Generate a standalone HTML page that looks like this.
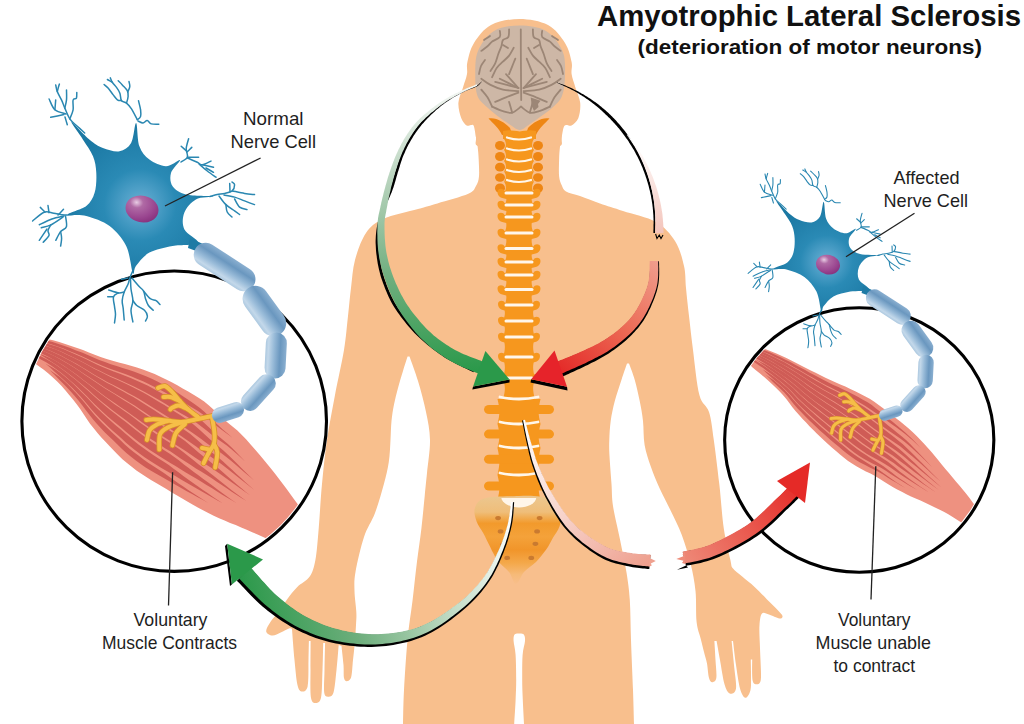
<!DOCTYPE html>
<html><head><meta charset="utf-8"><style>html,body{margin:0;padding:0;background:#fff;}svg{display:block;}</style></head>
<body><svg width="1024" height="724" viewBox="0 0 1024 724">
<defs><linearGradient id="vg" x1="0" x2="1" y1="0" y2="0"><stop offset="0" stop-color="#F08A16"/><stop offset="0.5" stop-color="#F79A24"/><stop offset="1" stop-color="#F08A16"/></linearGradient>
<linearGradient id="sg" gradientUnits="userSpaceOnUse" x1="0" x2="0" y1="497" y2="585"><stop offset="0" stop-color="#ECC68E"/><stop offset="0.17" stop-color="#EFBE7A"/><stop offset="0.3" stop-color="#F29A2C"/><stop offset="0.45" stop-color="#F4A23A"/><stop offset="0.6" stop-color="#F1952A"/><stop offset="0.75" stop-color="#F4A84A"/><stop offset="0.88" stop-color="#F6BA78"/><stop offset="1" stop-color="#F8BF8D"/></linearGradient>
<linearGradient id="gU" gradientUnits="userSpaceOnUse" x1="450" y1="90" x2="470" y2="370"><stop offset="0" stop-color="#F2F6F2"/><stop offset="0.3" stop-color="#B9D4BE"/><stop offset="0.65" stop-color="#6FAE7E"/><stop offset="1" stop-color="#2C994B"/></linearGradient>
<linearGradient id="rU" gradientUnits="userSpaceOnUse" x1="640" y1="140" x2="660" y2="240"><stop offset="0" stop-color="#FFFFFF"/><stop offset="1" stop-color="#F2C0B6"/></linearGradient>
<linearGradient id="rL" gradientUnits="userSpaceOnUse" x1="660" y1="258" x2="560" y2="372"><stop offset="0" stop-color="#F0A090"/><stop offset="0.5" stop-color="#EC6A55"/><stop offset="1" stop-color="#E42A28"/></linearGradient>
<linearGradient id="gL" gradientUnits="userSpaceOnUse" x1="512" y1="505" x2="240" y2="575"><stop offset="0" stop-color="#FFFFFF"/><stop offset="0.3" stop-color="#C2DCC6"/><stop offset="0.65" stop-color="#6DAE7C"/><stop offset="1" stop-color="#2C994B"/></linearGradient>
<linearGradient id="pL" gradientUnits="userSpaceOnUse" x1="524" y1="422" x2="652" y2="561"><stop offset="0" stop-color="#FFFFFF"/><stop offset="0.5" stop-color="#F7D3CB"/><stop offset="1" stop-color="#EE9F8E"/></linearGradient>
<linearGradient id="rR" gradientUnits="userSpaceOnUse" x1="677" y1="559" x2="800" y2="480"><stop offset="0" stop-color="#EE8C7A"/><stop offset="1" stop-color="#E52A27"/></linearGradient>
<clipPath id="cL"><ellipse cx="174.2" cy="421.2" rx="149.8" ry="147.7"/></clipPath>
<clipPath id="cR"><ellipse cx="859.25" cy="440" rx="132.1" ry="129.8"/></clipPath>
<clipPath id="mL"><path d="M10.0 331.0 L16.2 332.3 L22.3 333.6 L28.5 334.9 L34.7 336.2 L40.8 337.5 L47.0 338.9 L53.1 340.3 L59.2 342.0 L65.2 343.9 L71.1 346.0 L77.1 348.1 L83.0 350.1 L88.9 352.4 L94.7 354.8 L100.6 357.0 L106.6 359.0 L112.6 360.8 L118.7 362.6 L124.8 364.1 L130.9 365.8 L136.9 367.6 L142.9 369.6 L148.8 371.7 L154.7 374.1 L160.4 376.7 L166.1 379.4 L171.7 382.2 L177.3 385.2 L182.7 388.4 L188.2 391.5 L193.6 394.7 L198.9 398.1 L204.2 401.6 L209.0 405.6 L213.7 409.8 L218.3 414.1 L222.9 418.4 L227.6 422.6 L232.5 426.6 L237.4 430.6 L241.9 434.9 L246.3 439.5 L250.4 444.2 L254.6 449.0 L258.7 453.8 L262.7 458.6 L266.8 463.4 L270.7 468.3 L274.7 473.3 L278.5 478.2 L282.3 483.2 L286.1 488.3 L289.9 493.4 L293.5 498.5 L297.2 503.6 L300.9 508.7 L304.6 513.8 L308.3 518.9 L312.0 524.0 L290.0 550.0 L284.6 547.4 L279.3 544.7 L273.9 542.1 L268.5 539.5 L263.1 537.0 L257.6 534.5 L252.2 532.2 L246.7 529.8 L241.2 527.5 L235.7 525.1 L230.1 522.9 L224.6 520.6 L219.1 518.3 L213.7 515.7 L208.3 513.1 L203.0 510.3 L197.8 507.5 L192.5 504.6 L187.3 501.6 L182.2 498.6 L177.1 495.5 L171.9 492.4 L166.8 489.3 L161.7 486.3 L156.6 483.2 L151.4 480.2 L146.3 477.1 L141.3 473.8 L136.4 470.4 L131.7 466.8 L127.0 463.1 L122.4 459.2 L118.1 455.0 L114.0 450.7 L109.9 446.4 L105.7 442.1 L101.6 437.7 L97.7 433.3 L93.9 428.6 L90.2 423.9 L86.8 419.0 L83.5 414.0 L80.2 409.0 L76.7 404.2 L73.0 399.5 L69.2 394.9 L65.3 390.3 L61.4 385.8 L57.2 381.5 L52.9 377.4 L48.4 373.4 L43.8 369.7 L38.9 366.2 L34.1 362.7 L29.3 359.2 L24.4 355.6 L19.6 352.1 L14.8 348.5 L10.0 345.0Z"/></clipPath>
<clipPath id="mR"><path d="M735.0 340.0 L740.2 341.5 L745.5 343.0 L750.7 344.6 L755.9 346.1 L761.2 347.8 L766.3 349.5 L771.4 351.5 L776.4 353.6 L781.4 355.8 L786.4 358.1 L791.3 360.5 L796.2 363.0 L801.0 365.4 L805.9 367.9 L810.8 370.4 L815.6 372.8 L820.5 375.3 L825.4 377.7 L830.3 380.1 L835.3 382.3 L840.3 384.5 L845.3 386.6 L850.3 388.9 L855.2 391.2 L860.1 393.7 L864.9 396.2 L869.7 398.8 L874.3 401.8 L878.7 405.0 L883.1 408.2 L887.4 411.5 L891.7 414.9 L896.0 418.2 L900.3 421.6 L904.5 425.1 L908.7 428.6 L912.8 432.2 L916.7 436.0 L920.5 439.9 L924.3 443.9 L927.9 447.9 L931.5 452.0 L935.0 456.2 L938.5 460.4 L941.9 464.7 L945.4 468.9 L948.9 473.1 L952.4 477.3 L955.9 481.4 L959.4 485.6 L962.9 489.8 L966.4 494.0 L969.7 498.3 L972.9 502.8 L976.2 507.1 L979.6 511.4 L983.1 515.6 L986.5 519.8 L990.0 524.0 L975.0 530.0 L970.5 527.5 L966.0 525.0 L961.4 522.5 L957.0 519.8 L952.7 517.0 L948.3 514.3 L943.8 511.8 L939.2 509.4 L934.5 507.2 L929.9 504.9 L925.2 502.7 L920.5 500.6 L915.7 498.6 L911.0 496.5 L906.4 494.2 L901.8 491.8 L897.2 489.4 L892.7 486.9 L888.2 484.3 L883.8 481.6 L879.5 478.8 L875.1 476.1 L870.5 473.6 L865.9 471.4 L861.3 468.9 L856.8 466.4 L852.4 463.7 L848.1 460.9 L844.0 457.7 L840.0 454.5 L836.0 451.1 L832.1 447.7 L828.2 444.3 L824.4 440.8 L820.7 437.3 L817.0 433.7 L813.3 430.1 L809.7 426.4 L806.1 422.6 L802.6 418.9 L799.1 415.0 L795.7 411.2 L792.4 407.2 L789.3 403.0 L786.3 398.9 L782.9 394.9 L779.4 391.2 L775.6 387.6 L771.9 384.0 L768.1 380.6 L764.2 377.1 L760.3 373.8 L756.2 370.5 L752.3 367.2 L748.7 363.5 L745.2 359.7 L741.8 355.8 L738.4 351.9 L735.0 348.0Z"/></clipPath>
<radialGradient id="nb" gradientUnits="userSpaceOnUse" cx="140" cy="205" r="80"><stop offset="0" stop-color="#6AB0D2"/><stop offset="0.22" stop-color="#4C9EC6"/><stop offset="0.45" stop-color="#2A8AB5"/><stop offset="1" stop-color="#1B78A3"/></radialGradient>
<radialGradient id="nuc" cx="0.3" cy="0.3" r="0.8"><stop offset="0" stop-color="#E8CCE4"/><stop offset="0.25" stop-color="#B06AA5"/><stop offset="0.7" stop-color="#9A4690"/><stop offset="1" stop-color="#86307C"/></radialGradient>
<linearGradient id="my" x1="0" x2="0" y1="0" y2="1"><stop offset="0" stop-color="#8AAFD0"/><stop offset="0.3" stop-color="#6A97BF"/><stop offset="0.62" stop-color="#9ABCD9"/><stop offset="0.86" stop-color="#C3D8EA"/><stop offset="1" stop-color="#ADC9E0"/></linearGradient></defs>
<rect width="1024" height="724" fill="#fff"/>
<path d="M476.0 112.0 C476.0 116.3 475.7 131.8 476.0 137.6 C476.3 143.3 477.2 142.8 477.6 146.5 C478.1 150.2 478.5 154.7 478.7 159.7 C478.9 164.7 479.4 171.9 479.0 176.3 C478.6 180.7 477.8 183.1 476.0 186.0 C474.2 188.9 474.7 190.9 468.3 193.8 C461.9 196.7 445.8 200.9 437.4 203.4 C429.0 205.9 427.1 206.4 418.0 209.0 C408.9 211.6 391.7 215.0 383.0 219.0 C374.3 223.0 370.7 226.2 366.0 233.0 C361.3 239.8 357.5 250.8 355.0 260.0 C352.5 269.2 352.2 278.7 351.0 288.0 C349.8 297.3 349.2 305.7 348.0 316.0 C346.8 326.3 346.2 336.8 344.0 350.0 C341.8 363.2 337.8 380.0 335.0 395.0 C332.2 410.0 329.2 425.2 327.0 440.0 C324.8 454.8 323.4 469.3 322.0 484.0 C320.6 498.7 319.8 515.7 318.7 528.4 C317.6 541.1 316.9 552.0 315.4 560.0 C313.9 568.0 312.7 572.1 309.7 576.6 C306.7 581.1 301.1 583.2 297.3 587.0 C293.5 590.8 290.1 595.3 287.0 599.4 C283.9 603.5 281.4 608.0 278.6 611.8 C275.8 615.6 272.5 618.7 270.4 622.0 C268.3 625.3 265.9 629.2 266.2 631.5 C266.5 633.8 270.0 635.4 272.4 635.6 C274.8 635.8 277.9 633.7 280.7 632.5 C283.5 631.3 287.1 629.0 289.0 628.4 C290.9 627.8 291.5 628.9 292.0 629.0 L292.0 629.0 C292.4 634.2 293.6 650.8 294.5 660.0 C295.4 669.2 296.2 679.0 297.3 684.3 C298.4 689.5 299.7 691.1 301.4 691.5 C303.1 691.9 306.4 691.6 307.6 686.4 C308.8 681.1 308.3 667.6 308.5 660.0 C308.7 652.4 308.8 644.2 308.9 641.0 L310.6 641.0 C310.6 645.8 310.5 660.7 310.5 670.0 C310.5 679.3 310.1 691.2 310.8 696.7 C311.6 702.2 313.3 702.8 315.0 703.0 C316.7 703.2 319.8 703.3 321.0 697.8 C322.2 692.3 322.1 679.1 322.5 670.0 C322.9 660.9 323.1 647.5 323.2 643.0 L325.1 643.0 C325.0 647.5 324.6 661.7 324.5 670.0 C324.4 678.3 323.6 688.1 324.2 692.6 C324.8 697.1 326.8 696.7 328.4 696.7 C329.9 696.7 332.1 697.1 333.5 692.6 C334.9 688.1 335.6 677.9 336.5 670.0 C337.4 662.1 338.3 649.2 338.7 645.0 L341.5 646.0 C341.8 649.2 343.1 659.7 343.5 665.0 C343.9 670.3 343.4 675.3 344.0 678.0 C344.6 680.7 345.8 681.4 347.0 681.2 C348.2 681.0 350.2 680.5 351.2 677.0 C352.2 673.5 352.4 665.3 353.0 660.0 C353.6 654.7 354.1 650.8 354.6 645.0 C355.1 639.2 355.7 630.5 356.0 625.0 C356.3 619.5 356.6 617.5 356.3 611.8 C356.1 606.1 354.6 597.6 354.5 591.0 C354.4 584.4 353.9 581.0 355.5 572.0 C357.1 563.0 360.8 546.8 364.0 537.0 C367.2 527.2 371.7 521.8 375.0 513.0 C378.3 504.2 381.6 492.5 383.9 484.0 C386.2 475.5 387.7 469.3 388.8 462.0 C389.9 454.7 390.1 446.8 390.5 440.0 C390.9 433.2 390.9 426.9 391.5 421.0 C392.1 415.1 392.9 410.0 394.0 404.5 C395.1 399.0 396.5 393.6 398.0 388.0 C399.5 382.4 401.4 376.2 403.0 371.0 C404.6 365.8 406.8 359.0 407.6 356.6 L409.5 356.6 C410.9 360.7 415.2 371.8 418.0 381.0 C420.8 390.2 424.0 402.2 426.0 412.0 C428.0 421.8 429.8 429.8 430.0 440.0 C430.2 450.2 427.9 463.8 427.0 473.0 C426.1 482.2 425.7 485.8 424.8 495.0 C423.9 504.2 422.7 517.3 421.4 528.4 C420.1 539.5 418.5 549.6 417.0 561.5 C415.5 573.4 414.2 586.9 412.6 600.0 C411.0 613.1 408.9 625.0 407.5 640.0 C406.1 655.0 404.8 676.0 404.0 690.0 C403.2 704.0 403.2 718.3 403.0 724.0 L514.5 724.0 L514.2 724.0 C514.4 720.0 515.3 707.3 515.6 700.0 C515.9 692.7 516.2 687.5 516.2 680.0 C516.2 672.5 516.0 661.5 515.6 655.0 C515.2 648.5 513.8 644.4 513.6 641.0 C513.4 637.6 513.7 635.8 514.6 634.5 C515.5 633.2 517.5 633.4 519.0 633.4 C520.5 633.4 522.8 633.2 523.8 634.5 C524.8 635.8 525.2 637.6 525.0 641.0 C524.8 644.4 523.1 648.5 522.6 655.0 C522.1 661.5 522.2 672.5 522.2 680.0 C522.2 687.5 522.5 692.7 522.8 700.0 C523.1 707.3 523.8 720.0 524.0 724.0 L634.0 724.0 C633.8 718.3 633.5 704.0 633.0 690.0 C632.5 676.0 631.5 655.0 631.0 640.0 C630.5 625.0 630.5 611.2 629.8 600.0 C629.0 588.8 628.1 582.7 626.5 572.6 C624.9 562.5 622.2 550.5 620.0 539.4 C617.8 528.3 614.4 515.2 613.0 506.0 C611.6 496.8 612.1 492.3 611.5 484.0 C610.9 475.7 609.9 463.3 609.5 456.0 C609.1 448.7 609.1 445.8 609.3 440.0 C609.5 434.2 609.8 427.5 610.7 421.0 C611.6 414.5 613.0 407.9 614.8 401.0 C616.6 394.1 619.5 385.9 621.5 379.7 C623.5 373.4 626.1 366.2 627.0 363.5 L629.0 363.5 C630.0 366.2 632.9 373.4 634.7 379.7 C636.5 385.9 638.3 394.1 639.7 401.0 C641.1 407.9 642.2 413.7 643.0 421.0 C643.8 428.3 643.3 437.4 644.6 445.0 C645.9 452.6 648.3 459.2 650.8 466.5 C653.3 473.8 656.4 481.2 659.7 488.6 C663.0 496.0 667.0 503.0 670.7 510.7 C674.4 518.4 678.5 526.1 681.8 535.0 C685.1 543.9 688.3 554.5 690.6 563.8 C692.9 573.1 694.5 581.3 695.5 591.0 C696.5 600.7 695.7 614.0 696.6 622.0 C697.5 630.0 699.5 633.7 700.7 638.7 C701.9 643.7 703.0 647.9 704.0 652.0 C705.0 656.1 706.2 659.3 707.0 663.6 C707.8 667.9 708.1 674.9 709.0 678.0 C709.9 681.1 710.9 682.2 712.1 682.2 C713.3 682.2 715.7 681.7 716.3 678.0 C716.9 674.3 715.8 666.2 715.5 660.0 C715.2 653.8 714.6 644.2 714.4 641.0 L716.6 641.0 C717.2 644.2 718.7 652.8 720.0 660.0 C721.3 667.2 722.9 678.7 724.5 684.3 C726.1 689.9 727.8 692.9 729.7 693.6 C731.6 694.3 735.3 693.2 736.0 688.4 C736.7 683.6 734.7 672.9 734.0 665.0 C733.3 657.1 732.0 645.0 731.6 641.0 L733.0 641.0 C733.5 645.0 734.8 657.1 736.0 665.0 C737.2 672.9 738.5 682.9 740.0 688.4 C741.5 693.9 743.6 697.4 745.3 697.8 C747.0 698.1 749.4 694.3 750.4 690.5 C751.4 686.7 750.9 680.2 751.0 675.0 C751.1 669.8 750.8 662.0 750.8 659.4 L752.2 659.4 C752.2 662.8 751.8 675.9 752.5 680.0 C753.2 684.1 755.3 684.3 756.7 684.3 C758.1 684.3 760.2 684.0 760.8 680.0 C761.4 676.0 760.7 666.2 760.5 660.0 C760.3 653.8 760.0 648.7 759.8 642.9 C759.6 637.1 759.1 629.9 759.5 625.0 C759.9 620.1 760.4 615.2 762.0 613.5 C763.6 611.8 766.1 613.7 769.0 614.5 C771.9 615.3 777.1 618.2 779.4 618.5 C781.6 618.8 782.8 617.5 782.5 616.0 C782.2 614.5 780.0 612.5 777.4 609.7 C774.8 606.9 770.8 603.2 767.0 599.4 C763.2 595.6 758.7 590.8 754.6 587.0 C750.5 583.2 745.8 579.7 742.2 576.6 C738.6 573.5 734.8 571.1 732.8 568.3 C730.8 565.5 731.9 566.6 730.4 560.0 C728.9 553.4 725.6 541.1 723.8 528.4 C721.9 515.7 721.0 498.7 719.3 484.0 C717.6 469.3 715.5 452.0 713.8 440.0 C712.1 428.0 711.4 419.5 709.0 412.0 C706.6 404.5 702.1 405.3 699.4 395.0 C696.7 384.7 694.7 363.2 693.0 350.0 C691.3 336.8 690.2 326.3 689.0 316.0 C687.8 305.7 686.8 296.3 686.0 288.0 C685.2 279.7 685.8 273.8 684.0 266.0 C682.2 258.2 679.7 248.3 675.0 241.0 C670.3 233.7 664.7 227.0 656.0 222.0 C647.3 217.0 632.3 214.1 623.0 211.0 C613.7 207.9 607.2 206.0 600.0 203.5 C592.8 201.0 585.7 198.0 580.0 196.0 C574.3 194.0 569.1 193.3 566.0 191.5 C562.9 189.7 562.8 187.5 561.6 185.0 C560.5 182.5 559.5 180.5 559.1 176.3 C558.7 172.1 559.0 164.7 559.1 159.7 C559.2 154.7 559.6 150.2 560.0 146.5 C560.4 142.8 561.2 142.8 561.6 137.6 C562.0 132.3 562.4 118.8 562.5 115.0Z" fill="#F8BF8D"/>
<path d="M519.5 19.0 C529.0 19.0 540.4 21.0 548.0 25.0 C555.6 29.0 561.1 36.8 565.0 43.0 C568.9 49.2 570.5 56.8 571.6 62.0 C572.7 67.2 571.0 69.8 571.6 74.0 C572.2 78.2 574.0 82.6 575.4 87.4 C576.8 92.2 579.7 97.7 580.2 102.8 C580.7 107.9 579.8 114.5 578.3 118.3 C576.8 122.1 573.4 124.4 571.5 125.5 C569.6 126.6 568.3 124.8 567.0 125.0 C565.7 125.2 564.7 124.9 563.8 127.0 C562.9 129.1 562.2 134.4 561.6 137.6 C561.0 140.8 563.6 144.3 560.0 146.0 C556.4 147.7 550.2 147.7 540.0 148.0 C529.8 148.3 509.4 148.3 499.0 148.0 C488.6 147.7 481.4 147.7 477.6 146.0 C473.8 144.3 476.6 140.9 476.0 137.6 C475.4 134.3 474.6 128.1 473.8 126.0 C473.0 123.9 472.2 125.1 471.0 125.0 C469.8 124.9 468.2 126.6 466.6 125.5 C465.0 124.4 462.7 122.1 461.3 118.3 C459.9 114.5 458.1 107.9 458.4 102.8 C458.7 97.7 461.6 92.2 463.0 87.4 C464.4 82.6 466.3 78.2 467.0 74.0 C467.7 69.8 466.2 67.2 467.4 62.0 C468.6 56.8 470.1 49.2 474.0 43.0 C477.9 36.8 483.4 29.0 491.0 25.0 C498.6 21.0 510.0 19.0 519.5 19.0Z" fill="#F8BF8D"/>
<path d="M519.8 25.5 C528.5 25.5 538.9 26.8 546.0 31.0 C553.1 35.2 559.3 43.7 562.5 51.0 C565.7 58.3 565.1 67.5 565.0 75.0 C564.9 82.5 564.2 90.5 562.0 96.0 C559.8 101.5 555.7 104.5 552.0 108.0 C548.3 111.5 543.7 114.3 540.0 117.0 C536.3 119.7 533.4 121.8 530.0 124.0 C526.6 126.2 523.3 130.0 519.8 130.0 C516.3 130.0 512.5 126.2 509.0 124.0 C505.5 121.8 502.5 119.7 499.0 117.0 C495.5 114.3 491.6 111.5 488.0 108.0 C484.4 104.5 479.6 101.5 477.5 96.0 C475.4 90.5 475.2 82.5 475.3 75.0 C475.4 67.5 474.9 58.3 478.0 51.0 C481.1 43.7 487.0 35.2 494.0 31.0 C501.0 26.8 511.1 25.5 519.8 25.5Z" fill="#CDB7A6"/>
<path d="M520.8 29.3 C520.8 34.4 520.8 49.7 520.9 60.0 C521.0 70.3 521.0 84.4 521.1 91.1 C521.2 97.8 521.2 98.5 521.2 100.0" fill="none" stroke="#9C8676" stroke-width="1.8" stroke-linecap="round" stroke-linejoin="round"/>
<path d="M509.1 29.3 C509.0 30.6 509.3 35.2 508.3 37.0 C507.3 38.8 504.0 38.6 502.9 40.1 C501.8 41.6 502.2 44.0 501.4 46.3 C500.6 48.6 499.3 51.2 498.3 54.0 C497.3 56.8 496.5 60.5 495.2 63.3 C493.9 66.1 491.3 69.7 490.5 71.0" fill="none" stroke="#9C8676" stroke-width="1.8" stroke-linecap="round" stroke-linejoin="round"/>
<path d="M532.9 29.3 C533.0 30.6 532.7 35.2 533.7 37.0 C534.7 38.8 538.0 38.6 539.1 40.1 C540.2 41.6 539.8 44.0 540.6 46.3 C541.4 48.6 542.7 51.2 543.7 54.0 C544.7 56.8 545.5 60.5 546.8 63.3 C548.1 66.1 550.7 69.7 551.5 71.0" fill="none" stroke="#9C8676" stroke-width="1.8" stroke-linecap="round" stroke-linejoin="round"/>
<path d="M499.8 30.8 C499.8 31.8 501.1 35.2 499.8 37.0 C498.5 38.8 494.2 40.1 492.1 41.6 C490.1 43.1 489.3 44.8 487.5 46.3 C485.7 47.8 482.3 50.1 481.3 50.9" fill="none" stroke="#9C8676" stroke-width="1.8" stroke-linecap="round" stroke-linejoin="round"/>
<path d="M542.2 30.8 C542.2 31.8 540.9 35.2 542.2 37.0 C543.5 38.8 547.9 40.1 549.9 41.6 C551.9 43.1 552.7 44.8 554.5 46.3 C556.3 47.8 559.7 50.1 560.7 50.9" fill="none" stroke="#9C8676" stroke-width="1.8" stroke-linecap="round" stroke-linejoin="round"/>
<path d="M513.7 47.8 C512.9 49.1 510.9 53.3 509.1 55.6 C507.3 57.9 505.0 59.7 502.9 61.7 C500.8 63.8 498.5 65.3 496.7 67.9 C494.9 70.5 492.9 75.7 492.1 77.2" fill="none" stroke="#9C8676" stroke-width="1.8" stroke-linecap="round" stroke-linejoin="round"/>
<path d="M528.3 47.8 C529.1 49.1 531.1 53.3 532.9 55.6 C534.7 57.9 537.0 59.7 539.1 61.7 C541.2 63.8 543.5 65.3 545.3 67.9 C547.1 70.5 549.1 75.7 549.9 77.2" fill="none" stroke="#9C8676" stroke-width="1.8" stroke-linecap="round" stroke-linejoin="round"/>
<path d="M515.3 58.6 C514.8 59.9 513.2 63.8 512.2 66.4 C511.2 69.0 509.6 72.8 509.1 74.1" fill="none" stroke="#9C8676" stroke-width="1.8" stroke-linecap="round" stroke-linejoin="round"/>
<path d="M526.7 58.6 C527.2 59.9 528.8 63.8 529.8 66.4 C530.8 69.0 532.4 72.8 532.9 74.1" fill="none" stroke="#9C8676" stroke-width="1.8" stroke-linecap="round" stroke-linejoin="round"/>
<path d="M518.4 88.0 C514.5 87.0 499.1 82.8 495.2 81.8" fill="none" stroke="#9C8676" stroke-width="1.8" stroke-linecap="round" stroke-linejoin="round"/>
<path d="M523.6 88.0 C527.5 87.0 542.9 82.8 546.8 81.8" fill="none" stroke="#9C8676" stroke-width="1.8" stroke-linecap="round" stroke-linejoin="round"/>
<path d="M518.4 88.0 C515.3 86.5 502.9 80.2 499.8 78.7" fill="none" stroke="#9C8676" stroke-width="1.8" stroke-linecap="round" stroke-linejoin="round"/>
<path d="M523.6 88.0 C526.7 86.5 539.1 80.2 542.2 78.7" fill="none" stroke="#9C8676" stroke-width="1.8" stroke-linecap="round" stroke-linejoin="round"/>
<path d="M518.4 88.0 C516.3 85.7 508.1 76.4 506.0 74.1" fill="none" stroke="#9C8676" stroke-width="1.8" stroke-linecap="round" stroke-linejoin="round"/>
<path d="M523.6 88.0 C525.7 85.7 533.9 76.4 536.0 74.1" fill="none" stroke="#9C8676" stroke-width="1.8" stroke-linecap="round" stroke-linejoin="round"/>
<path d="M481.3 78.7 C482.8 79.7 486.9 83.1 490.5 84.9 C494.1 86.7 498.2 88.6 502.9 89.6 C507.5 90.6 515.8 90.8 518.4 91.1" fill="none" stroke="#9C8676" stroke-width="1.8" stroke-linecap="round" stroke-linejoin="round"/>
<path d="M560.7 78.7 C559.2 79.7 555.1 83.1 551.5 84.9 C547.9 86.7 543.8 88.6 539.1 89.6 C534.5 90.6 526.2 90.8 523.6 91.1" fill="none" stroke="#9C8676" stroke-width="1.8" stroke-linecap="round" stroke-linejoin="round"/>
<path d="M495.2 101.9 C497.0 101.1 502.1 98.8 506.0 97.3 C509.9 95.8 516.3 93.5 518.4 92.7" fill="none" stroke="#9C8676" stroke-width="1.8" stroke-linecap="round" stroke-linejoin="round"/>
<path d="M546.8 101.9 C545.0 101.1 539.9 98.8 536.0 97.3 C532.1 95.8 525.7 93.5 523.6 92.7" fill="none" stroke="#9C8676" stroke-width="1.8" stroke-linecap="round" stroke-linejoin="round"/>
<path d="M481.3 89.6 C482.3 90.9 485.7 94.5 487.5 97.3 C489.3 100.1 491.3 105.0 492.1 106.6" fill="none" stroke="#9C8676" stroke-width="1.8" stroke-linecap="round" stroke-linejoin="round"/>
<path d="M560.7 89.6 C559.7 90.9 556.3 94.5 554.5 97.3 C552.7 100.1 550.7 105.0 549.9 106.6" fill="none" stroke="#9C8676" stroke-width="1.8" stroke-linecap="round" stroke-linejoin="round"/>
<path d="M492.1 106.6 C493.9 107.4 499.5 110.2 502.9 111.2 C506.2 112.2 509.2 113.5 512.2 112.7 C515.2 111.9 519.5 107.6 521.0 106.6" fill="none" stroke="#9C8676" stroke-width="1.8" stroke-linecap="round" stroke-linejoin="round"/>
<path d="M549.9 106.6 C548.1 107.4 542.5 110.2 539.1 111.2 C535.8 112.2 532.8 113.5 529.8 112.7 C526.8 111.9 522.5 107.6 521.0 106.6" fill="none" stroke="#9C8676" stroke-width="1.8" stroke-linecap="round" stroke-linejoin="round"/>
<path d="M509.1 101.9 C509.6 103.7 511.7 110.9 512.2 112.7" fill="none" stroke="#9C8676" stroke-width="1.8" stroke-linecap="round" stroke-linejoin="round"/>
<path d="M532.9 101.9 C532.4 103.7 530.3 110.9 529.8 112.7" fill="none" stroke="#9C8676" stroke-width="1.8" stroke-linecap="round" stroke-linejoin="round"/>
<path d="M485.0 60.0 C484.3 61.0 482.0 63.7 481.0 66.0 C480.0 68.3 479.3 72.7 479.0 74.0" fill="none" stroke="#9C8676" stroke-width="1.8" stroke-linecap="round" stroke-linejoin="round"/>
<path d="M557.0 60.0 C557.7 61.0 560.0 63.7 561.0 66.0 C562.0 68.3 562.7 72.7 563.0 74.0" fill="none" stroke="#9C8676" stroke-width="1.8" stroke-linecap="round" stroke-linejoin="round"/>
<path d="M490.0 36.0 C489.0 36.7 485.0 39.3 484.0 40.0" fill="none" stroke="#9C8676" stroke-width="1.8" stroke-linecap="round" stroke-linejoin="round"/>
<path d="M552.0 36.0 C553.0 36.7 557.0 39.3 558.0 40.0" fill="none" stroke="#9C8676" stroke-width="1.8" stroke-linecap="round" stroke-linejoin="round"/>
<path d="M503.0 45.0 C503.8 45.5 507.2 47.5 508.0 48.0" fill="none" stroke="#9C8676" stroke-width="1.8" stroke-linecap="round" stroke-linejoin="round"/>
<path d="M539.0 45.0 C538.2 45.5 534.8 47.5 534.0 48.0" fill="none" stroke="#9C8676" stroke-width="1.8" stroke-linecap="round" stroke-linejoin="round"/>
<path d="M530.7 97.5 L540.5 100.8 L538 104 L538.5 107 L534 111 L531.8 106 Z" fill="#9C8676"/>
<path d="M488.5 118.5 C496 117 504 122 510 128 L512 134 L502 135 C499 128 493 123.5 488.5 118.5 Z" fill="#EE8614"/>
<path d="M549.5 118.5 C542 117 534 122 528 128 L526 134 L536 135 C539 128 545 123.5 549.5 118.5 Z" fill="#EE8614"/>
<path d="M503 131 C510 129.5 514 131 519.8 131.5 C525 131 529 129.5 536 131 L536 139 L503 139 Z" fill="#F6971E"/>
<path d="M504.0 139.0 C506.5 142.5 506.5 146.5 504.0 150.0 L534.0 150.0 C531.5 146.5 531.5 142.5 534.0 139.0 Z" fill="#F6971E"/>
<ellipse cx="500.0" cy="145.5" rx="5" ry="4.6" fill="#EE8614"/>
<ellipse cx="538.0" cy="145.5" rx="5" ry="4.6" fill="#EE8614"/>
<path d="M504.0 150.0 C506.5 153.5 506.5 157.5 504.0 161.0 L534.0 161.0 C531.5 157.5 531.5 153.5 534.0 150.0 Z" fill="#F6971E"/>
<ellipse cx="500.0" cy="156.5" rx="5" ry="4.6" fill="#EE8614"/>
<ellipse cx="538.0" cy="156.5" rx="5" ry="4.6" fill="#EE8614"/>
<path d="M504.0 161.0 C506.5 164.2 506.5 168.2 504.0 171.5 L534.0 171.5 C531.5 168.2 531.5 164.2 534.0 161.0 Z" fill="#F6971E"/>
<ellipse cx="500.0" cy="167.2" rx="5" ry="4.4" fill="#EE8614"/>
<ellipse cx="538.0" cy="167.2" rx="5" ry="4.4" fill="#EE8614"/>
<path d="M504.0 171.5 C506.5 174.5 506.5 178.5 504.0 181.5 L534.0 181.5 C531.5 178.5 531.5 174.5 534.0 171.5 Z" fill="#F6971E"/>
<ellipse cx="500.0" cy="177.5" rx="5" ry="4.2" fill="#EE8614"/>
<ellipse cx="538.0" cy="177.5" rx="5" ry="4.2" fill="#EE8614"/>
<path d="M504.0 181.5 C506.5 185.2 506.5 189.2 504.0 193.0 L534.0 193.0 C531.5 189.2 531.5 185.2 534.0 181.5 Z" fill="#F6971E"/>
<ellipse cx="500.0" cy="188.2" rx="5" ry="4.8" fill="#EE8614"/>
<ellipse cx="538.0" cy="188.2" rx="5" ry="4.8" fill="#EE8614"/>
<path d="M504.5 193.0 C507.0 197.0 507.0 201.0 504.5 205.0 L533.5 205.0 C531.0 201.0 531.0 197.0 533.5 193.0 Z" fill="#F6971E"/>
<path d="M504.5 205.0 C507.0 209.0 507.0 213.0 504.5 217.0 L533.5 217.0 C531.0 213.0 531.0 209.0 533.5 205.0 Z" fill="#F6971E"/>
<path d="M504.5 217.0 C507.0 223.0 507.0 227.0 504.5 233.0 L533.5 233.0 C531.0 227.0 531.0 223.0 533.5 217.0 Z" fill="#F6971E"/>
<path d="M504.5 233.0 C507.0 238.8 507.0 242.8 504.5 248.5 L533.5 248.5 C531.0 242.8 531.0 238.8 533.5 233.0 Z" fill="#F6971E"/>
<path d="M504.5 248.5 C507.0 253.2 507.0 257.2 504.5 262.0 L533.5 262.0 C531.0 257.2 531.0 253.2 533.5 248.5 Z" fill="#F6971E"/>
<path d="M504.5 262.0 C507.0 266.5 507.0 270.5 504.5 275.0 L533.5 275.0 C531.0 270.5 531.0 266.5 533.5 262.0 Z" fill="#F6971E"/>
<path d="M504.5 275.0 C507.0 280.2 507.0 284.2 504.5 289.5 L533.5 289.5 C531.0 284.2 531.0 280.2 533.5 275.0 Z" fill="#F6971E"/>
<path d="M504.5 289.5 C507.0 295.2 507.0 299.2 504.5 305.0 L533.5 305.0 C531.0 299.2 531.0 295.2 533.5 289.5 Z" fill="#F6971E"/>
<path d="M503.0 305.0 C505.5 311.0 505.5 315.0 503.0 321.0 L535.0 321.0 C532.5 315.0 532.5 311.0 535.0 305.0 Z" fill="#F6971E"/>
<path d="M503.0 321.0 C505.5 327.0 505.5 331.0 503.0 337.0 L535.0 337.0 C532.5 331.0 532.5 327.0 535.0 321.0 Z" fill="#F6971E"/>
<path d="M503.0 337.0 C505.5 345.0 505.5 349.0 503.0 357.0 L535.0 357.0 C532.5 349.0 532.5 345.0 535.0 337.0 Z" fill="#F6971E"/>
<path d="M503.0 357.0 C505.5 365.5 505.5 369.5 503.0 378.0 L535.0 378.0 C532.5 369.5 532.5 365.5 535.0 357.0 Z" fill="#F6971E"/>
<path d="M503.0 378.0 C505.5 386.5 505.5 390.5 503.0 399.0 L535.0 399.0 C532.5 390.5 532.5 386.5 535.0 378.0 Z" fill="#F6971E"/>
<path d="M497.5 399.0 C500.0 409.5 500.0 413.5 497.5 424.0 L540.5 424.0 C538.0 413.5 538.0 409.5 540.5 399.0 Z" fill="#F6971E"/>
<rect x="484.0" y="405.0" width="70.0" height="9.0" rx="5" fill="#F6971E"/>
<path d="M497.5 424.0 C500.0 434.0 500.0 438.0 497.5 448.0 L540.5 448.0 C538.0 438.0 538.0 434.0 540.5 424.0 Z" fill="#F6971E"/>
<rect x="484.0" y="429.6" width="70.0" height="9.0" rx="5" fill="#F6971E"/>
<path d="M497.5 448.0 C500.0 459.5 500.0 463.5 497.5 475.0 L540.5 475.0 C538.0 463.5 538.0 459.5 540.5 448.0 Z" fill="#F6971E"/>
<rect x="484.0" y="454.8" width="70.0" height="9.0" rx="5" fill="#F6971E"/>
<path d="M497.5 475.0 C500.0 485.5 500.0 489.5 497.5 500.0 L540.5 500.0 C538.0 489.5 538.0 485.5 540.5 475.0 Z" fill="#F6971E"/>
<rect x="484.0" y="481.5" width="70.0" height="9.0" rx="5" fill="#F6971E"/>
<path d="M497.5 192.0 C497.5 188.0 503.5 188.0 504.5 191.0 L533.5 191.0 C534.5 188.0 540.5 188.0 540.5 192.0 C540.5 197.0 535.5 199.0 529.5 199.0 L508.5 199.0 C502.5 199.0 497.5 197.0 497.5 192.0 Z" fill="#F6971E"/>
<path d="M497.5 204.0 C497.5 200.0 503.5 200.0 504.5 203.0 L533.5 203.0 C534.5 200.0 540.5 200.0 540.5 204.0 C540.5 209.0 535.5 211.0 529.5 211.0 L508.5 211.0 C502.5 211.0 497.5 209.0 497.5 204.0 Z" fill="#F6971E"/>
<path d="M497.5 216.0 C497.5 212.0 503.5 212.0 504.5 215.0 L533.5 215.0 C534.5 212.0 540.5 212.0 540.5 216.0 C540.5 221.0 535.5 223.0 529.5 223.0 L508.5 223.0 C502.5 223.0 497.5 221.0 497.5 216.0 Z" fill="#F6971E"/>
<path d="M497.5 232.0 C497.5 228.0 503.5 228.0 504.5 231.0 L533.5 231.0 C534.5 228.0 540.5 228.0 540.5 232.0 C540.5 237.0 535.5 239.0 529.5 239.0 L508.5 239.0 C502.5 239.0 497.5 237.0 497.5 232.0 Z" fill="#F6971E"/>
<path d="M497.5 247.5 C497.5 243.5 503.5 243.5 504.5 246.5 L533.5 246.5 C534.5 243.5 540.5 243.5 540.5 247.5 C540.5 252.5 535.5 254.5 529.5 254.5 L508.5 254.5 C502.5 254.5 497.5 252.5 497.5 247.5 Z" fill="#F6971E"/>
<path d="M497.5 261.0 C497.5 257.0 503.5 257.0 504.5 260.0 L533.5 260.0 C534.5 257.0 540.5 257.0 540.5 261.0 C540.5 266.0 535.5 268.0 529.5 268.0 L508.5 268.0 C502.5 268.0 497.5 266.0 497.5 261.0 Z" fill="#F6971E"/>
<path d="M497.5 274.0 C497.5 270.0 503.5 270.0 504.5 273.0 L533.5 273.0 C534.5 270.0 540.5 270.0 540.5 274.0 C540.5 279.0 535.5 281.0 529.5 281.0 L508.5 281.0 C502.5 281.0 497.5 279.0 497.5 274.0 Z" fill="#F6971E"/>
<path d="M497.5 288.5 C497.5 284.5 503.5 284.5 504.5 287.5 L533.5 287.5 C534.5 284.5 540.5 284.5 540.5 288.5 C540.5 293.5 535.5 295.5 529.5 295.5 L508.5 295.5 C502.5 295.5 497.5 293.5 497.5 288.5 Z" fill="#F6971E"/>
<path d="M498.0 304.0 C498.0 300.0 504.0 300.0 505.0 303.0 L533.0 303.0 C534.0 300.0 540.0 300.0 540.0 304.0 C540.0 309.0 535.0 311.0 529.0 311.0 L509.0 311.0 C503.0 311.0 498.0 309.0 498.0 304.0 Z" fill="#F6971E"/>
<path d="M498.0 320.0 C498.0 316.0 504.0 316.0 505.0 319.0 L533.0 319.0 C534.0 316.0 540.0 316.0 540.0 320.0 C540.0 325.0 535.0 327.0 529.0 327.0 L509.0 327.0 C503.0 327.0 498.0 325.0 498.0 320.0 Z" fill="#F6971E"/>
<path d="M498.0 336.0 C498.0 332.0 504.0 332.0 505.0 335.0 L533.0 335.0 C534.0 332.0 540.0 332.0 540.0 336.0 C540.0 341.0 535.0 343.0 529.0 343.0 L509.0 343.0 C503.0 343.0 498.0 341.0 498.0 336.0 Z" fill="#F6971E"/>
<path d="M498.0 356.0 C498.0 352.0 504.0 352.0 505.0 355.0 L533.0 355.0 C534.0 352.0 540.0 352.0 540.0 356.0 C540.0 361.0 535.0 363.0 529.0 363.0 L509.0 363.0 C503.0 363.0 498.0 361.0 498.0 356.0 Z" fill="#F6971E"/>
<path d="M498.0 377.0 C498.0 373.0 504.0 373.0 505.0 376.0 L533.0 376.0 C534.0 373.0 540.0 373.0 540.0 377.0 C540.0 382.0 535.0 384.0 529.0 384.0 L509.0 384.0 C503.0 384.0 498.0 382.0 498.0 377.0 Z" fill="#F6971E"/>
<path d="M507.0 137.5 Q519.0 141.5 531.0 137.5" fill="none" stroke="#FFF6EA" stroke-width="2.2" stroke-linecap="round"/>
<path d="M507.0 148.5 Q519.0 152.5 531.0 148.5" fill="none" stroke="#FFF6EA" stroke-width="2.2" stroke-linecap="round"/>
<path d="M507.0 159.5 Q519.0 163.5 531.0 159.5" fill="none" stroke="#FFF6EA" stroke-width="2.2" stroke-linecap="round"/>
<path d="M507.0 170.0 Q519.0 174.0 531.0 170.0" fill="none" stroke="#FFF6EA" stroke-width="2.2" stroke-linecap="round"/>
<path d="M507.0 180.0 Q519.0 184.0 531.0 180.0" fill="none" stroke="#FFF6EA" stroke-width="2.2" stroke-linecap="round"/>
<rect x="504.5" y="191.5" width="29.0" height="3" rx="1.5" fill="#FFF6EA"/>
<rect x="504.5" y="203.5" width="29.0" height="3" rx="1.5" fill="#FFF6EA"/>
<rect x="504.5" y="215.5" width="29.0" height="3" rx="1.5" fill="#FFF6EA"/>
<rect x="504.5" y="231.5" width="29.0" height="3" rx="1.5" fill="#FFF6EA"/>
<rect x="504.5" y="247.0" width="29.0" height="3" rx="1.5" fill="#FFF6EA"/>
<rect x="504.5" y="260.5" width="29.0" height="3" rx="1.5" fill="#FFF6EA"/>
<rect x="504.5" y="273.5" width="29.0" height="3" rx="1.5" fill="#FFF6EA"/>
<rect x="504.5" y="288.0" width="29.0" height="3" rx="1.5" fill="#FFF6EA"/>
<rect x="504.5" y="303.5" width="29.0" height="3" rx="1.5" fill="#FFF6EA"/>
<rect x="504.5" y="319.5" width="29.0" height="3" rx="1.5" fill="#FFF6EA"/>
<rect x="504.5" y="335.5" width="29.0" height="3" rx="1.5" fill="#FFF6EA"/>
<rect x="504.5" y="355.5" width="29.0" height="3" rx="1.5" fill="#FFF6EA"/>
<rect x="504.5" y="376.5" width="29.0" height="3" rx="1.5" fill="#FFF6EA"/>
<path d="M500.0 397.0 Q519.0 401.0 538.0 397.0" fill="none" stroke="#FFF6EA" stroke-width="2.8" stroke-linecap="round"/>
<path d="M500.0 422.0 Q519.0 426.0 538.0 422.0" fill="none" stroke="#FFF6EA" stroke-width="2.8" stroke-linecap="round"/>
<path d="M500.0 446.0 Q519.0 450.0 538.0 446.0" fill="none" stroke="#FFF6EA" stroke-width="2.8" stroke-linecap="round"/>
<path d="M500.0 473.0 Q519.0 477.0 538.0 473.0" fill="none" stroke="#FFF6EA" stroke-width="2.8" stroke-linecap="round"/>
<path d="M484.9 498.2 C492.2 496.2 509.9 496.3 519.0 496.0 C528.1 495.7 533.4 495.7 539.6 496.6 C545.8 497.5 552.4 498.7 556.0 501.5 C559.6 504.3 560.4 509.1 561.0 513.2 C561.6 517.4 560.9 522.3 559.5 526.4 C558.1 530.5 555.0 534.1 552.8 538.0 C550.6 541.9 549.0 545.6 546.2 549.6 C543.4 553.6 539.7 558.3 536.0 562.0 C532.3 565.7 527.3 568.3 524.0 572.0 C520.7 575.7 518.5 584.0 516.0 584.0 C513.5 584.0 512.0 575.8 509.0 572.0 C506.0 568.2 500.6 564.4 498.0 561.2 C495.4 558.0 494.8 556.0 493.2 553.0 C491.6 550.0 489.9 546.3 488.2 543.0 C486.5 539.7 485.1 536.6 483.2 533.0 C481.3 529.4 478.0 525.5 476.6 521.4 C475.2 517.3 473.5 512.1 474.9 508.2 C476.3 504.3 477.5 500.2 484.9 498.2Z" fill="url(#sg)"/>
<path d="M501.4 498 L536.2 498 C536 503 528 507.5 519 507.5 C510 507.5 502 503 501.4 498Z" fill="#FFF6EA"/>
<ellipse cx="498.1" cy="518.1" rx="2.9" ry="2.1" fill="#C97A30"/>
<ellipse cx="539.6" cy="518.1" rx="2.9" ry="2.1" fill="#C97A30"/>
<ellipse cx="500.6" cy="531.4" rx="2.9" ry="2.1" fill="#C97A30"/>
<ellipse cx="537.1" cy="531.4" rx="2.9" ry="2.1" fill="#C97A30"/>
<ellipse cx="535.4" cy="543.8" rx="2.9" ry="2.1" fill="#C97A30"/>
<ellipse cx="503.0" cy="544.5" rx="2.9" ry="2.1" fill="#C97A30"/>
<ellipse cx="507.2" cy="557.9" rx="2.9" ry="2.1" fill="#C97A30"/>
<ellipse cx="531.3" cy="557.9" rx="2.9" ry="2.1" fill="#C97A30"/>
<ellipse cx="174.2" cy="421.2" rx="152.3" ry="150.2" fill="none" stroke="#000" stroke-width="3.1"/>
<ellipse cx="859.25" cy="440" rx="134.6" ry="132.3" fill="none" stroke="#000" stroke-width="3.1"/>
<path d="M481.5 81.5 L481.3 81.7 L481.0 81.9 L480.8 82.2 L480.5 82.5 L480.2 82.9 L479.8 83.3 L479.4 83.6 L479.0 84.0 L478.5 84.4 L477.9 84.9 L477.2 85.3 L476.5 85.6 L475.7 86.0 L474.7 86.4 L473.7 86.8 L472.6 87.3 L471.4 87.7 L470.2 88.1 L468.9 88.6 L467.6 89.0 L466.4 89.5 L465.1 90.0 L463.8 90.5 L462.6 91.0 L461.5 91.6 L460.3 92.1 L459.1 92.7 L457.9 93.2 L456.8 93.8 L455.6 94.4 L454.4 95.0 L453.2 95.7 L452.0 96.3 L450.9 97.0 L449.7 97.7 L448.5 98.4 L447.3 99.2 L446.2 99.9 L445.0 100.7 L443.8 101.5 L442.7 102.3 L441.5 103.2 L440.3 104.0 L439.2 104.9 L438.0 105.8 L436.8 106.7 L435.6 107.7 L434.5 108.7 L433.3 109.7 L432.1 110.7 L430.9 111.8 L429.7 113.0 L428.5 114.1 L427.3 115.3 L426.1 116.4 L424.9 117.6 L423.8 118.8 L422.6 120.1 L421.5 121.3 L420.5 122.5 L419.4 123.7 L418.4 124.9 L417.4 126.2 L416.4 127.4 L415.4 128.7 L414.5 130.0 L413.6 131.2 L412.7 132.5 L411.8 133.8 L410.9 135.1 L410.1 136.5 L409.2 137.8 L408.4 139.2 L407.6 140.5 L406.9 141.9 L406.1 143.3 L405.4 144.7 L404.7 146.1 L404.0 147.5 L403.3 148.9 L402.7 150.3 L402.0 151.8 L401.4 153.2 L400.8 154.6 L400.2 156.0 L399.7 157.4 L399.2 158.7 L398.7 160.1 L398.3 161.5 L397.8 162.9 L397.4 164.3 L397.0 165.6 L396.6 167.0 L396.2 168.4 L395.7 169.8 L395.3 171.3 L394.8 172.7 L394.4 174.2 L393.9 175.7 L393.5 177.2 L393.1 178.6 L392.7 180.1 L392.2 181.6 L391.8 183.2 L391.3 184.7 L390.8 186.3 L390.3 187.9 L389.7 189.5 L389.1 191.2 L388.4 192.9 L387.6 194.7 L386.8 196.5 L386.0 198.3 L385.2 200.1 L384.3 202.0 L383.5 203.9 L382.7 205.8 L382.0 207.7 L381.3 209.7 L380.7 211.6 L380.1 213.5 L379.6 215.4 L379.0 217.3 L378.5 219.3 L378.1 221.2 L377.7 223.1 L377.3 225.1 L376.9 227.1 L376.6 229.0 L376.3 231.0 L376.1 232.9 L375.9 234.9 L375.8 236.8 L375.7 238.8 L375.6 240.7 L375.6 242.7 L375.7 244.6 L375.8 246.6 L375.9 248.5 L376.0 250.5 L376.2 252.4 L376.4 254.3 L376.7 256.3 L376.9 258.2 L377.2 260.1 L377.5 262.0 L377.8 263.9 L378.2 265.8 L378.6 267.7 L379.0 269.6 L379.5 271.5 L380.0 273.5 L380.5 275.4 L381.1 277.4 L381.8 279.4 L382.5 281.5 L383.2 283.5 L384.0 285.6 L384.8 287.8 L385.7 289.9 L386.6 292.1 L387.5 294.3 L388.5 296.5 L389.6 298.8 L390.7 301.0 L391.9 303.3 L393.2 305.5 L394.6 307.7 L396.1 310.0 L397.6 312.3 L399.3 314.6 L401.0 316.9 L402.8 319.3 L404.6 321.6 L406.5 323.9 L408.4 326.2 L410.4 328.5 L412.4 330.7 L414.4 332.9 L416.5 335.0 L418.6 337.0 L420.8 339.1 L423.0 341.1 L425.3 343.0 L427.6 345.0 L429.9 346.8 L432.3 348.7 L434.7 350.5 L437.1 352.2 L439.5 353.9 L441.9 355.6 L444.2 357.2 L446.7 358.7 L449.4 360.3 L452.2 361.8 L455.0 363.3 L457.8 364.8 L460.6 366.1 L463.3 367.4 L465.8 368.6 L468.2 369.7 L470.2 370.7 L472.0 371.6 L473.4 372.3 L474.6 369.7 L473.2 369.0 L471.4 368.2 L469.4 367.2 L467.0 366.1 L464.5 364.9 L461.8 363.6 L459.1 362.3 L456.3 360.8 L453.5 359.4 L450.8 357.9 L448.2 356.3 L445.8 354.8 L443.4 353.3 L441.1 351.6 L438.7 350.0 L436.3 348.2 L434.0 346.5 L431.7 344.7 L429.4 342.8 L427.1 340.9 L424.9 339.0 L422.7 337.0 L420.6 335.0 L418.5 333.0 L416.5 331.0 L414.5 328.8 L412.5 326.6 L410.5 324.4 L408.6 322.2 L406.8 319.9 L405.0 317.6 L403.2 315.3 L401.5 313.0 L399.9 310.7 L398.4 308.5 L397.0 306.3 L395.6 304.1 L394.4 301.9 L393.2 299.7 L392.1 297.5 L391.1 295.4 L390.1 293.2 L389.1 291.0 L388.3 288.9 L387.4 286.8 L386.6 284.7 L385.9 282.6 L385.1 280.5 L384.4 278.5 L383.8 276.6 L383.2 274.6 L382.7 272.7 L382.2 270.9 L381.7 269.0 L381.3 267.1 L380.9 265.3 L380.6 263.4 L380.3 261.6 L380.0 259.7 L379.7 257.8 L379.4 255.9 L379.2 254.0 L379.0 252.1 L378.8 250.2 L378.7 248.3 L378.6 246.4 L378.5 244.5 L378.4 242.7 L378.4 240.8 L378.5 238.9 L378.6 237.0 L378.7 235.1 L378.9 233.2 L379.1 231.3 L379.4 229.4 L379.7 227.5 L380.0 225.6 L380.4 223.7 L380.8 221.8 L381.3 219.9 L381.7 218.0 L382.3 216.1 L382.8 214.3 L383.3 212.4 L383.9 210.6 L384.6 208.7 L385.3 206.9 L386.1 205.0 L386.9 203.1 L387.7 201.3 L388.6 199.4 L389.4 197.6 L390.2 195.8 L390.9 194.0 L391.7 192.2 L392.3 190.5 L392.9 188.8 L393.5 187.2 L394.0 185.5 L394.5 184.0 L394.9 182.4 L395.4 180.9 L395.8 179.4 L396.2 177.9 L396.6 176.5 L397.1 175.0 L397.5 173.6 L397.9 172.1 L398.4 170.7 L398.8 169.2 L399.3 167.8 L399.7 166.4 L400.1 165.1 L400.5 163.7 L400.9 162.4 L401.4 161.0 L401.9 159.7 L402.3 158.3 L402.8 157.0 L403.4 155.6 L404.0 154.3 L404.6 152.9 L405.2 151.5 L405.8 150.1 L406.5 148.7 L407.1 147.3 L407.8 145.9 L408.5 144.6 L409.3 143.2 L410.0 141.9 L410.8 140.5 L411.6 139.2 L412.4 137.9 L413.2 136.6 L414.0 135.3 L414.9 134.0 L415.7 132.7 L416.6 131.5 L417.5 130.2 L418.4 129.0 L419.4 127.8 L420.4 126.5 L421.3 125.3 L422.3 124.1 L423.4 122.9 L424.4 121.7 L425.5 120.5 L426.7 119.3 L427.8 118.1 L429.0 116.9 L430.1 115.8 L431.3 114.6 L432.5 113.5 L433.6 112.4 L434.8 111.4 L435.9 110.3 L437.1 109.3 L438.2 108.4 L439.3 107.4 L440.4 106.5 L441.6 105.6 L442.7 104.8 L443.8 103.9 L444.9 103.1 L446.1 102.3 L447.2 101.5 L448.4 100.7 L449.5 100.0 L450.6 99.2 L451.8 98.5 L452.9 97.8 L454.0 97.1 L455.2 96.4 L456.3 95.8 L457.5 95.2 L458.6 94.5 L459.7 93.9 L460.9 93.3 L462.0 92.8 L463.2 92.2 L464.3 91.6 L465.5 91.1 L466.8 90.6 L468.0 90.1 L469.3 89.6 L470.5 89.1 L471.8 88.6 L472.9 88.2 L474.1 87.7 L475.1 87.2 L476.0 86.8 L476.9 86.4 L477.6 85.9 L478.3 85.4 L478.9 85.0 L479.4 84.5 L479.8 84.1 L480.2 83.6 L480.5 83.2 L480.8 82.8 L481.1 82.5 L481.3 82.2 L481.5 81.9 L481.7 81.7Z" fill="#000"/>
<path d="M476.7 84.3 L476.0 84.6 L475.1 85.0 L474.0 85.4 L472.8 85.9 L471.5 86.4 L470.1 87.0 L468.7 87.5 L467.2 88.1 L465.7 88.8 L464.3 89.4 L462.9 90.0 L461.6 90.6 L460.3 91.2 L459.0 91.8 L457.8 92.4 L456.5 93.0 L455.2 93.6 L453.9 94.3 L452.6 94.9 L451.4 95.6 L450.1 96.3 L448.8 97.0 L447.6 97.7 L446.3 98.4 L445.1 99.2 L443.9 99.9 L442.7 100.7 L441.5 101.5 L440.3 102.3 L439.1 103.1 L437.9 103.9 L436.8 104.8 L435.6 105.6 L434.4 106.5 L433.2 107.4 L432.0 108.3 L430.8 109.2 L429.6 110.2 L428.4 111.2 L427.2 112.2 L425.9 113.2 L424.7 114.2 L423.5 115.3 L422.2 116.4 L421.1 117.5 L419.9 118.5 L418.8 119.7 L417.7 120.8 L416.6 121.9 L415.6 123.0 L414.6 124.2 L413.7 125.3 L412.7 126.5 L411.8 127.6 L411.0 128.8 L410.1 130.0 L409.2 131.2 L408.4 132.4 L407.6 133.6 L406.7 134.9 L405.9 136.2 L405.1 137.5 L404.3 138.8 L403.5 140.1 L402.8 141.4 L402.0 142.8 L401.3 144.1 L400.6 145.5 L399.9 146.9 L399.2 148.3 L398.5 149.6 L397.9 151.0 L397.2 152.4 L396.6 153.8 L396.0 155.2 L395.4 156.6 L394.8 158.0 L394.2 159.4 L393.7 160.9 L393.1 162.3 L392.6 163.7 L392.1 165.2 L391.5 166.7 L391.0 168.2 L390.5 169.7 L390.0 171.2 L389.4 172.8 L388.9 174.4 L388.4 175.9 L387.9 177.5 L387.5 179.1 L387.0 180.8 L386.5 182.4 L386.1 184.0 L385.6 185.6 L385.2 187.3 L384.7 188.9 L384.3 190.6 L383.8 192.3 L383.4 194.0 L383.0 195.7 L382.5 197.4 L382.1 199.2 L381.7 200.9 L381.3 202.5 L381.0 204.2 L380.6 205.8 L380.3 207.4 L380.0 208.8 L379.7 210.2 L379.4 211.5 L379.1 212.8 L378.8 214.1 L378.5 215.4 L378.3 216.8 L378.1 218.2 L377.9 219.7 L377.7 221.3 L377.6 223.0 L377.5 224.9 L377.4 226.9 L377.4 229.0 L377.3 231.3 L377.3 233.6 L377.4 236.0 L377.4 238.5 L377.5 241.0 L377.6 243.6 L377.8 246.1 L378.0 248.7 L378.3 251.2 L378.6 253.6 L379.0 256.0 L379.4 258.4 L379.8 260.8 L380.4 263.1 L380.9 265.5 L381.5 267.9 L382.1 270.2 L382.8 272.6 L383.5 275.0 L384.3 277.3 L385.1 279.7 L385.9 282.1 L386.8 284.4 L387.7 286.8 L388.6 289.1 L389.6 291.5 L390.6 293.8 L391.6 296.2 L392.8 298.6 L394.0 301.0 L395.2 303.4 L396.5 305.8 L397.9 308.2 L399.4 310.6 L401.0 313.1 L402.6 315.5 L404.4 318.0 L406.2 320.6 L408.1 323.1 L410.0 325.6 L411.9 328.1 L414.0 330.5 L416.0 332.9 L418.1 335.2 L420.1 337.4 L422.2 339.6 L424.4 341.6 L426.5 343.6 L428.7 345.6 L430.9 347.4 L433.2 349.2 L435.5 350.9 L437.7 352.6 L440.0 354.2 L442.3 355.8 L444.5 357.3 L446.8 358.7 L449.0 360.1 L451.4 361.5 L453.8 362.8 L456.3 364.1 L458.8 365.2 L461.2 366.4 L463.7 367.4 L466.0 368.4 L468.2 369.3 L470.4 370.2 L472.3 371.0 L474.0 371.7 L475.6 372.4 L477.1 373.0 L478.4 373.5 L479.6 374.0 L480.8 374.4 L481.8 374.8 L482.7 375.1 L483.5 375.4 L484.2 375.6 L484.7 375.8 L485.2 375.9 L485.6 376.0 L486.0 376.2 L490.0 363.8 L489.5 363.7 L489.0 363.5 L488.4 363.3 L487.8 363.2 L487.2 363.0 L486.6 362.8 L485.8 362.6 L485.0 362.3 L484.1 362.0 L483.0 361.6 L481.8 361.2 L480.4 360.6 L478.7 360.0 L476.9 359.3 L474.9 358.5 L472.8 357.8 L470.6 356.9 L468.3 356.1 L466.0 355.1 L463.7 354.2 L461.5 353.2 L459.2 352.1 L457.1 351.0 L455.0 349.9 L452.9 348.7 L450.7 347.4 L448.6 346.1 L446.4 344.7 L444.3 343.3 L442.1 341.8 L440.0 340.3 L437.9 338.7 L435.8 337.0 L433.7 335.4 L431.7 333.6 L429.8 331.8 L427.8 329.9 L425.8 327.9 L423.8 325.8 L421.9 323.7 L419.9 321.4 L418.0 319.1 L416.1 316.8 L414.2 314.5 L412.4 312.2 L410.7 309.9 L409.1 307.6 L407.6 305.4 L406.1 303.2 L404.8 301.0 L403.5 298.8 L402.3 296.6 L401.1 294.4 L400.0 292.2 L398.9 290.0 L397.9 287.8 L396.9 285.6 L395.9 283.4 L395.0 281.2 L394.1 278.9 L393.2 276.7 L392.4 274.5 L391.6 272.3 L390.9 270.1 L390.2 267.9 L389.5 265.7 L388.9 263.5 L388.3 261.3 L387.8 259.0 L387.3 256.8 L386.8 254.6 L386.4 252.4 L386.0 250.1 L385.7 247.8 L385.4 245.4 L385.2 243.0 L385.0 240.6 L384.8 238.2 L384.7 235.8 L384.6 233.5 L384.6 231.2 L384.5 229.0 L384.5 227.0 L384.5 225.1 L384.5 223.4 L384.6 221.8 L384.7 220.4 L384.9 219.1 L385.0 217.8 L385.2 216.6 L385.4 215.4 L385.6 214.2 L385.9 212.9 L386.2 211.6 L386.4 210.1 L386.7 208.6 L387.0 207.1 L387.3 205.5 L387.6 203.8 L387.9 202.2 L388.2 200.5 L388.6 198.8 L388.9 197.1 L389.3 195.4 L389.7 193.7 L390.1 192.0 L390.5 190.4 L390.8 188.7 L391.2 187.1 L391.6 185.5 L392.0 183.9 L392.5 182.3 L392.9 180.7 L393.3 179.1 L393.7 177.5 L394.2 175.9 L394.6 174.4 L395.1 172.8 L395.5 171.3 L396.0 169.8 L396.5 168.3 L397.0 166.9 L397.4 165.4 L397.9 164.0 L398.4 162.6 L398.9 161.2 L399.4 159.8 L399.9 158.4 L400.5 157.1 L401.0 155.7 L401.6 154.3 L402.1 153.0 L402.7 151.6 L403.4 150.2 L404.0 148.9 L404.6 147.5 L405.3 146.2 L406.0 144.8 L406.6 143.5 L407.3 142.2 L408.1 140.9 L408.8 139.6 L409.5 138.4 L410.3 137.1 L411.0 135.9 L411.8 134.7 L412.6 133.5 L413.4 132.3 L414.2 131.1 L415.0 129.9 L415.8 128.8 L416.7 127.7 L417.5 126.5 L418.4 125.4 L419.4 124.3 L420.3 123.2 L421.3 122.1 L422.4 121.1 L423.5 120.0 L424.6 118.9 L425.7 117.8 L426.9 116.8 L428.1 115.7 L429.2 114.7 L430.4 113.6 L431.6 112.6 L432.8 111.7 L434.0 110.7 L435.1 109.8 L436.2 108.8 L437.4 107.9 L438.5 107.1 L439.6 106.2 L440.7 105.3 L441.9 104.5 L443.0 103.7 L444.2 102.9 L445.3 102.1 L446.5 101.3 L447.7 100.6 L448.9 99.8 L450.1 99.1 L451.3 98.4 L452.5 97.7 L453.7 97.0 L455.0 96.3 L456.2 95.6 L457.5 95.0 L458.7 94.3 L459.9 93.7 L461.2 93.0 L462.4 92.4 L463.7 91.8 L465.1 91.1 L466.5 90.5 L467.9 89.8 L469.4 89.2 L470.8 88.5 L472.1 87.9 L473.4 87.4 L474.6 86.9 L475.7 86.4 L476.6 86.0 L477.3 85.7Z" fill="url(#gU)"/>
<path d="M472.3 389.6 L509.5 382.5 L509.6 379.4 L473.1 386.4 Z" fill="#000"/>
<path d="M485.4 350.9 L509.6 379.4 L473.1 386.4 Z" fill="#2B994A"/>
<path d="M556.6 82.6 L557.3 82.9 L558.1 83.3 L559.1 83.8 L560.1 84.2 L561.3 84.8 L562.6 85.3 L563.8 85.9 L565.1 86.5 L566.4 87.1 L567.7 87.7 L568.9 88.3 L570.0 88.8 L571.1 89.4 L572.2 90.0 L573.3 90.6 L574.4 91.1 L575.4 91.7 L576.5 92.3 L577.5 93.0 L578.6 93.6 L579.6 94.2 L580.7 94.9 L581.7 95.5 L582.7 96.2 L583.8 96.8 L584.8 97.5 L585.8 98.2 L586.8 98.9 L587.8 99.6 L588.8 100.3 L589.8 101.0 L590.8 101.8 L591.8 102.5 L592.7 103.2 L593.7 104.0 L594.7 104.8 L595.6 105.5 L596.6 106.3 L597.5 107.1 L598.4 107.8 L599.3 108.6 L600.3 109.4 L601.2 110.2 L602.1 111.0 L603.0 111.9 L603.9 112.7 L604.7 113.5 L605.6 114.4 L606.5 115.2 L607.4 116.0 L608.2 116.9 L609.1 117.8 L610.0 118.6 L610.8 119.5 L611.7 120.4 L612.5 121.3 L613.3 122.2 L614.1 123.1 L615.0 124.0 L615.8 124.9 L616.6 125.8 L617.4 126.7 L618.2 127.7 L619.0 128.6 L619.7 129.6 L620.5 130.5 L621.3 131.5 L622.0 132.5 L622.8 133.4 L623.5 134.4 L624.3 135.4 L625.0 136.4 L625.7 137.4 L626.4 138.4 L627.1 139.3 L627.8 140.3 L628.5 141.3 L629.1 142.4 L629.8 143.4 L630.4 144.4 L631.1 145.4 L631.7 146.4 L632.3 147.5 L632.9 148.5 L633.6 149.6 L634.2 150.6 L634.8 151.7 L635.4 152.8 L635.9 153.9 L636.5 155.0 L637.1 156.0 L637.6 157.1 L638.2 158.2 L638.7 159.3 L639.3 160.5 L639.8 161.6 L640.3 162.7 L640.8 163.8 L641.3 164.9 L641.7 166.0 L642.2 167.1 L642.7 168.3 L643.1 169.4 L643.5 170.5 L644.0 171.7 L644.4 172.8 L644.8 174.0 L645.2 175.1 L645.6 176.3 L646.0 177.4 L646.4 178.6 L646.8 179.7 L647.1 180.9 L647.5 182.1 L647.8 183.3 L648.2 184.4 L648.5 185.6 L648.8 186.8 L649.1 188.0 L649.4 189.2 L649.7 190.3 L650.0 191.5 L650.3 192.7 L650.5 193.9 L650.8 195.1 L651.0 196.3 L651.2 197.5 L651.4 198.7 L651.7 199.9 L651.8 201.1 L652.0 202.3 L652.2 203.5 L652.4 204.7 L652.5 205.9 L652.7 207.2 L652.8 208.4 L652.9 209.6 L653.0 210.8 L653.1 212.0 L653.2 213.2 L653.3 214.5 L653.4 215.7 L653.4 216.9 L653.5 218.1 L653.5 219.4 L653.6 220.7 L653.6 222.1 L653.6 223.6 L653.5 225.0 L653.5 226.4 L653.5 227.8 L653.5 229.0 L653.4 230.2 L653.4 231.3 L653.4 232.2 L653.4 232.9 L655.0 232.9 L655.0 232.2 L655.1 231.3 L655.1 230.3 L655.1 229.1 L655.2 227.8 L655.2 226.4 L655.3 225.0 L655.3 223.6 L655.3 222.1 L655.3 220.7 L655.3 219.4 L655.3 218.1 L655.3 216.8 L655.2 215.6 L655.2 214.4 L655.1 213.1 L655.0 211.9 L654.9 210.7 L654.8 209.4 L654.7 208.2 L654.6 207.0 L654.5 205.7 L654.3 204.5 L654.2 203.3 L654.0 202.0 L653.9 200.8 L653.7 199.6 L653.5 198.4 L653.3 197.1 L653.1 195.9 L652.8 194.7 L652.6 193.5 L652.4 192.3 L652.1 191.1 L651.8 189.9 L651.6 188.6 L651.3 187.4 L651.0 186.2 L650.7 185.0 L650.4 183.8 L650.1 182.6 L649.7 181.4 L649.4 180.2 L649.1 179.0 L648.7 177.8 L648.3 176.7 L648.0 175.5 L647.6 174.3 L647.2 173.1 L646.8 172.0 L646.4 170.8 L645.9 169.6 L645.5 168.5 L645.1 167.3 L644.6 166.2 L644.2 165.0 L643.7 163.9 L643.2 162.7 L642.7 161.6 L642.2 160.4 L641.7 159.3 L641.2 158.2 L640.7 157.0 L640.1 155.9 L639.6 154.8 L639.0 153.7 L638.4 152.6 L637.9 151.4 L637.3 150.3 L636.7 149.2 L636.1 148.2 L635.5 147.1 L634.8 146.0 L634.2 144.9 L633.6 143.9 L632.9 142.8 L632.3 141.8 L631.6 140.7 L630.9 139.7 L630.2 138.7 L629.5 137.7 L628.8 136.6 L628.1 135.6 L627.4 134.6 L626.7 133.6 L625.9 132.6 L625.2 131.6 L624.4 130.6 L623.6 129.6 L622.9 128.7 L622.1 127.7 L621.3 126.7 L620.5 125.7 L619.7 124.8 L618.8 123.8 L618.0 122.9 L617.2 122.0 L616.4 121.1 L615.5 120.1 L614.7 119.2 L613.8 118.3 L612.9 117.4 L612.1 116.6 L611.2 115.7 L610.3 114.8 L609.4 113.9 L608.5 113.1 L607.6 112.2 L606.7 111.4 L605.7 110.6 L604.8 109.8 L603.9 109.0 L602.9 108.2 L602.0 107.4 L601.0 106.6 L600.1 105.9 L599.1 105.1 L598.1 104.3 L597.1 103.6 L596.1 102.8 L595.1 102.1 L594.1 101.4 L593.1 100.7 L592.1 100.0 L591.0 99.3 L590.0 98.6 L589.0 97.9 L587.9 97.2 L586.9 96.6 L585.8 95.9 L584.7 95.3 L583.7 94.6 L582.6 94.0 L581.5 93.4 L580.5 92.8 L579.4 92.2 L578.3 91.6 L577.2 91.0 L576.1 90.5 L575.0 89.9 L573.9 89.4 L572.8 88.8 L571.7 88.3 L570.6 87.8 L569.4 87.2 L568.1 86.7 L566.8 86.2 L565.5 85.6 L564.2 85.1 L562.8 84.6 L561.6 84.1 L560.4 83.7 L559.3 83.3 L558.3 82.9 L557.4 82.6 L556.8 82.4Z" fill="#000"/>
<path d="M626.8 134.6 L627.3 135.4 L627.8 136.2 L628.5 137.3 L629.3 138.4 L630.1 139.7 L631.0 141.0 L631.9 142.4 L632.8 143.8 L633.7 145.2 L634.6 146.6 L635.4 148.0 L636.1 149.3 L636.8 150.5 L637.5 151.8 L638.2 153.1 L638.9 154.4 L639.5 155.7 L640.2 157.0 L640.8 158.3 L641.4 159.6 L642.0 161.0 L642.6 162.3 L643.2 163.6 L643.8 165.0 L644.3 166.3 L644.9 167.7 L645.4 169.0 L645.9 170.4 L646.4 171.7 L646.9 173.1 L647.4 174.5 L647.9 175.9 L648.3 177.2 L648.7 178.6 L649.2 180.0 L649.6 181.4 L650.0 182.8 L650.4 184.2 L650.7 185.6 L651.1 187.0 L651.4 188.4 L651.8 189.8 L652.1 191.3 L652.4 192.7 L652.7 194.1 L652.9 195.5 L653.2 197.0 L653.5 198.4 L653.7 199.8 L653.9 201.3 L654.1 202.7 L654.3 204.1 L654.5 205.6 L654.6 207.0 L654.8 208.5 L654.9 209.9 L655.1 211.4 L655.2 212.8 L655.3 214.3 L655.3 215.7 L655.4 217.2 L655.4 218.7 L655.4 220.4 L655.4 222.1 L655.4 223.8 L655.4 225.5 L655.3 227.1 L655.3 228.6 L655.2 230.0 L655.2 231.3 L655.2 232.4 L655.2 233.3 L663.6 233.1 L663.6 232.3 L663.5 231.2 L663.5 230.0 L663.4 228.5 L663.4 227.0 L663.3 225.3 L663.2 223.6 L663.1 221.9 L662.9 220.1 L662.8 218.4 L662.6 216.7 L662.5 215.1 L662.3 213.6 L662.1 212.1 L661.8 210.6 L661.6 209.1 L661.3 207.6 L661.1 206.1 L660.8 204.6 L660.5 203.1 L660.2 201.6 L659.8 200.1 L659.5 198.7 L659.1 197.2 L658.8 195.7 L658.4 194.3 L658.0 192.8 L657.6 191.4 L657.2 189.9 L656.7 188.5 L656.3 187.1 L655.8 185.6 L655.3 184.2 L654.8 182.8 L654.3 181.4 L653.8 180.0 L653.3 178.6 L652.8 177.2 L652.2 175.8 L651.6 174.4 L651.0 173.1 L650.5 171.7 L649.8 170.3 L649.2 169.0 L648.6 167.6 L647.9 166.3 L647.3 165.0 L646.6 163.6 L645.9 162.3 L645.3 161.0 L644.5 159.7 L643.8 158.4 L643.1 157.1 L642.4 155.8 L641.6 154.6 L640.8 153.3 L640.1 152.0 L639.3 150.8 L638.5 149.6 L637.7 148.3 L636.8 147.1 L635.9 145.7 L634.9 144.4 L633.9 143.0 L632.9 141.7 L631.9 140.4 L630.9 139.1 L630.0 137.9 L629.1 136.8 L628.4 135.9 L627.7 135.0 L627.2 134.4Z" fill="url(#rU)"/>
<path d="M655.6 234 L657 238.5 L659.3 235 L661 238.5 L663 235" fill="none" stroke="#000" stroke-width="1.1"/>
<path d="M650.3 260.9 L650.2 261.9 L650.2 263.3 L650.1 264.8 L650.1 266.5 L650.1 268.4 L650.0 270.3 L649.9 272.3 L649.8 274.3 L649.7 276.2 L649.5 278.1 L649.3 279.8 L649.0 281.3 L648.7 282.8 L648.4 284.2 L648.0 285.6 L647.6 287.0 L647.1 288.4 L646.6 289.8 L646.1 291.2 L645.5 292.6 L645.0 294.0 L644.4 295.4 L643.7 296.8 L643.1 298.2 L642.4 299.7 L641.7 301.2 L640.9 302.7 L640.2 304.1 L639.4 305.6 L638.6 307.1 L637.8 308.5 L636.9 309.9 L636.0 311.3 L635.1 312.7 L634.2 314.0 L633.3 315.3 L632.3 316.6 L631.3 317.8 L630.3 319.0 L629.3 320.2 L628.2 321.4 L627.1 322.5 L625.9 323.7 L624.8 324.8 L623.6 325.9 L622.4 327.1 L621.1 328.2 L619.8 329.3 L618.4 330.4 L617.1 331.6 L615.7 332.7 L614.2 333.8 L612.7 334.9 L611.2 336.0 L609.6 337.0 L608.1 338.1 L606.5 339.1 L604.9 340.1 L603.4 341.1 L601.8 342.1 L600.2 343.0 L598.6 343.9 L597.0 344.7 L595.4 345.6 L593.7 346.4 L592.1 347.2 L590.4 348.0 L588.7 348.8 L586.9 349.6 L585.2 350.4 L583.4 351.2 L581.7 352.0 L579.9 352.8 L578.0 353.6 L576.0 354.4 L574.0 355.3 L572.0 356.1 L570.0 356.9 L568.1 357.7 L566.2 358.5 L564.4 359.2 L562.7 359.9 L561.1 360.5 L559.7 361.1 L558.5 361.6 L557.4 362.0 L556.4 362.4 L555.6 362.7 L554.8 363.0 L554.0 363.3 L553.4 363.5 L552.8 363.7 L552.3 363.9 L551.8 364.1 L551.3 364.2 L550.9 364.4 L556.5 379.1 L556.8 378.9 L557.2 378.8 L557.6 378.6 L558.2 378.4 L558.8 378.1 L559.5 377.8 L560.3 377.5 L561.2 377.1 L562.1 376.7 L563.2 376.3 L564.4 375.8 L565.6 375.2 L567.0 374.6 L568.5 373.9 L570.2 373.1 L572.0 372.3 L573.9 371.5 L575.8 370.6 L577.8 369.6 L579.9 368.7 L581.9 367.7 L583.9 366.8 L585.8 365.8 L587.7 364.9 L589.5 364.0 L591.2 363.1 L592.9 362.2 L594.7 361.4 L596.5 360.4 L598.2 359.5 L600.0 358.6 L601.7 357.6 L603.5 356.6 L605.2 355.5 L607.0 354.5 L608.7 353.4 L610.4 352.2 L612.1 351.1 L613.8 349.9 L615.4 348.7 L617.1 347.5 L618.7 346.3 L620.3 345.0 L621.9 343.8 L623.4 342.5 L625.0 341.2 L626.4 339.9 L627.9 338.6 L629.3 337.3 L630.6 336.0 L631.9 334.7 L633.2 333.3 L634.5 332.0 L635.7 330.6 L636.9 329.3 L638.1 327.9 L639.2 326.4 L640.3 325.0 L641.4 323.5 L642.5 322.0 L643.6 320.4 L644.6 318.8 L645.5 317.2 L646.5 315.6 L647.4 313.9 L648.2 312.3 L649.0 310.6 L649.8 309.0 L650.6 307.4 L651.3 305.7 L652.0 304.1 L652.7 302.5 L653.3 301.0 L653.9 299.4 L654.5 297.9 L655.1 296.3 L655.6 294.7 L656.2 293.1 L656.7 291.5 L657.1 289.9 L657.5 288.2 L657.9 286.5 L658.3 284.8 L658.6 283.0 L658.8 281.0 L659.0 279.0 L659.1 276.8 L659.2 274.7 L659.2 272.6 L659.2 270.5 L659.2 268.5 L659.1 266.6 L659.1 264.9 L659.1 263.4 L659.0 262.1 L659.0 261.2Z" fill="#000"/>
<path d="M649.8 260.9 L649.7 261.9 L649.7 263.3 L649.6 264.8 L649.6 266.5 L649.6 268.4 L649.5 270.3 L649.4 272.3 L649.3 274.2 L649.2 276.2 L649.0 278.0 L648.8 279.7 L648.5 281.2 L648.2 282.7 L647.9 284.1 L647.5 285.5 L647.1 286.9 L646.6 288.3 L646.1 289.7 L645.6 291.0 L645.1 292.4 L644.5 293.8 L643.9 295.2 L643.3 296.6 L642.6 298.0 L641.9 299.5 L641.2 301.0 L640.5 302.4 L639.7 303.9 L639.0 305.4 L638.1 306.8 L637.3 308.3 L636.5 309.7 L635.6 311.1 L634.7 312.4 L633.8 313.7 L632.9 315.0 L631.9 316.3 L630.9 317.5 L629.9 318.7 L628.9 319.9 L627.8 321.0 L626.7 322.2 L625.6 323.3 L624.4 324.5 L623.2 325.6 L622.0 326.7 L620.7 327.8 L619.5 328.9 L618.1 330.1 L616.8 331.2 L615.3 332.3 L613.9 333.4 L612.4 334.5 L610.9 335.5 L609.4 336.6 L607.8 337.7 L606.2 338.7 L604.7 339.7 L603.1 340.7 L601.5 341.6 L600.0 342.5 L598.4 343.4 L596.8 344.3 L595.2 345.1 L593.5 345.9 L591.8 346.7 L590.2 347.6 L588.5 348.3 L586.7 349.1 L585.0 349.9 L583.2 350.7 L581.4 351.5 L579.7 352.3 L577.8 353.2 L575.8 354.0 L573.8 354.8 L571.8 355.7 L569.9 356.5 L567.9 357.3 L566.0 358.0 L564.2 358.8 L562.5 359.4 L560.9 360.1 L559.6 360.6 L558.3 361.1 L557.2 361.5 L556.3 361.9 L555.4 362.2 L554.6 362.5 L553.9 362.8 L553.2 363.0 L552.6 363.2 L552.1 363.4 L551.6 363.6 L551.1 363.8 L550.7 363.9 L555.3 376.1 L555.7 375.9 L556.1 375.8 L556.5 375.6 L557.1 375.4 L557.7 375.2 L558.4 374.9 L559.2 374.6 L560.0 374.2 L561.0 373.8 L562.0 373.4 L563.2 372.9 L564.4 372.4 L565.8 371.8 L567.4 371.1 L569.0 370.4 L570.9 369.6 L572.7 368.8 L574.7 367.9 L576.7 367.0 L578.7 366.1 L580.8 365.2 L582.8 364.3 L584.7 363.4 L586.6 362.5 L588.3 361.6 L590.1 360.7 L591.8 359.9 L593.6 359.0 L595.3 358.1 L597.1 357.3 L598.8 356.3 L600.6 355.4 L602.3 354.4 L604.1 353.4 L605.8 352.4 L607.5 351.4 L609.2 350.3 L610.8 349.2 L612.5 348.0 L614.2 346.9 L615.8 345.7 L617.4 344.5 L619.0 343.3 L620.6 342.1 L622.1 340.8 L623.6 339.6 L625.1 338.3 L626.5 337.1 L627.9 335.8 L629.3 334.5 L630.6 333.3 L631.9 332.0 L633.1 330.7 L634.3 329.4 L635.5 328.0 L636.7 326.7 L637.9 325.3 L639.0 323.9 L640.1 322.5 L641.1 321.0 L642.2 319.5 L643.2 317.9 L644.1 316.4 L645.1 314.8 L646.0 313.2 L646.9 311.6 L647.7 309.9 L648.5 308.3 L649.3 306.7 L650.0 305.1 L650.7 303.5 L651.4 302.0 L652.0 300.4 L652.7 298.9 L653.3 297.4 L653.9 295.8 L654.4 294.3 L655.0 292.7 L655.5 291.1 L656.0 289.5 L656.4 287.9 L656.8 286.2 L657.2 284.5 L657.5 282.8 L657.7 280.9 L657.9 278.9 L658.1 276.8 L658.2 274.7 L658.2 272.5 L658.3 270.5 L658.3 268.5 L658.3 266.6 L658.2 264.9 L658.2 263.4 L658.2 262.1 L658.2 261.1Z" fill="url(#rL)"/>
<path d="M530.5 382.5 L567.5 390.5 L567 386.8 L531.2 379.2 Z" fill="#000"/>
<path d="M554.5 350.5 L531.2 379.2 L567 386.8 Z" fill="#E6232A"/>
<path d="M511.5 501.9 L511.4 503.0 L511.2 504.4 L511.0 506.0 L510.8 507.8 L510.6 509.7 L510.4 511.7 L510.1 513.9 L509.8 516.1 L509.4 518.3 L509.0 520.5 L508.6 522.7 L508.1 524.8 L507.5 526.9 L506.9 529.0 L506.3 531.2 L505.6 533.3 L504.9 535.6 L504.1 537.8 L503.3 540.1 L502.4 542.3 L501.6 544.6 L500.6 546.9 L499.6 549.1 L498.6 551.4 L497.6 553.7 L496.5 556.0 L495.4 558.3 L494.3 560.6 L493.1 562.9 L491.9 565.2 L490.6 567.6 L489.3 569.8 L487.9 572.1 L486.5 574.4 L484.9 576.6 L483.3 578.8 L481.6 580.9 L479.8 583.1 L478.0 585.2 L476.1 587.4 L474.2 589.5 L472.1 591.6 L470.0 593.7 L467.9 595.7 L465.6 597.8 L463.2 599.8 L460.8 601.8 L458.2 603.8 L455.6 605.9 L452.7 608.0 L449.8 610.1 L446.7 612.2 L443.6 614.3 L440.4 616.4 L437.2 618.4 L434.0 620.3 L430.7 622.1 L427.4 623.8 L424.2 625.3 L421.1 626.6 L417.9 627.8 L414.7 628.9 L411.5 629.9 L408.2 630.8 L404.9 631.5 L401.6 632.2 L398.3 632.8 L395.0 633.3 L391.7 633.7 L388.3 634.1 L385.0 634.3 L381.7 634.6 L378.4 634.7 L375.1 634.7 L371.7 634.7 L368.4 634.5 L365.0 634.3 L361.7 634.0 L358.3 633.7 L355.0 633.2 L351.7 632.7 L348.4 632.2 L345.2 631.5 L342.1 630.9 L339.0 630.1 L335.9 629.3 L332.8 628.4 L329.8 627.5 L326.8 626.5 L323.8 625.4 L320.9 624.2 L318.0 623.0 L315.1 621.8 L312.3 620.5 L309.5 619.1 L306.7 617.6 L304.0 616.2 L301.4 614.6 L298.7 613.0 L296.1 611.3 L293.6 609.5 L291.0 607.7 L288.5 605.8 L286.0 603.9 L283.6 602.0 L281.1 600.0 L278.7 597.9 L276.4 595.9 L274.1 593.7 L271.7 591.4 L269.2 588.9 L266.7 586.2 L264.2 583.5 L261.8 580.8 L259.4 578.1 L257.2 575.6 L255.2 573.2 L253.4 571.1 L251.8 569.3 L250.5 567.9 L236.8 580.7 L238.1 581.9 L239.7 583.6 L241.5 585.6 L243.7 587.8 L246.0 590.3 L248.6 592.9 L251.2 595.7 L254.0 598.4 L256.8 601.2 L259.7 603.9 L262.5 606.4 L265.3 608.8 L268.0 610.9 L270.7 613.0 L273.4 615.0 L276.1 617.0 L278.9 619.0 L281.8 620.9 L284.7 622.8 L287.6 624.6 L290.6 626.4 L293.6 628.1 L296.7 629.7 L299.8 631.3 L302.9 632.7 L306.1 634.1 L309.2 635.4 L312.5 636.7 L315.7 637.9 L319.0 639.0 L322.3 640.0 L325.7 641.0 L329.1 641.9 L332.5 642.7 L335.9 643.5 L339.3 644.1 L342.8 644.7 L346.3 645.3 L349.8 645.7 L353.4 646.1 L357.0 646.4 L360.7 646.7 L364.3 646.8 L368.0 646.9 L371.6 646.9 L375.3 646.8 L378.9 646.6 L382.5 646.3 L386.1 645.9 L389.6 645.4 L393.2 644.9 L396.7 644.3 L400.3 643.6 L403.9 642.8 L407.4 641.9 L411.0 640.9 L414.5 639.8 L418.0 638.6 L421.5 637.2 L425.0 635.8 L428.4 634.1 L431.9 632.3 L435.3 630.3 L438.7 628.2 L442.1 626.1 L445.4 623.8 L448.6 621.5 L451.7 619.2 L454.8 616.8 L457.7 614.5 L460.5 612.2 L463.2 610.0 L465.8 607.8 L468.3 605.6 L470.7 603.3 L473.0 601.0 L475.2 598.8 L477.3 596.5 L479.3 594.2 L481.3 591.9 L483.2 589.6 L485.0 587.2 L486.7 584.9 L488.4 582.5 L490.1 580.1 L491.6 577.7 L493.1 575.2 L494.4 572.8 L495.7 570.3 L496.9 567.8 L498.1 565.4 L499.2 562.9 L500.2 560.5 L501.3 558.1 L502.2 555.7 L503.2 553.4 L504.1 551.0 L505.0 548.6 L505.9 546.3 L506.7 543.9 L507.5 541.5 L508.2 539.2 L508.9 536.8 L509.5 534.5 L510.1 532.2 L510.7 530.0 L511.2 527.8 L511.7 525.6 L512.1 523.4 L512.5 521.1 L512.8 518.8 L513.1 516.5 L513.3 514.3 L513.5 512.1 L513.6 510.0 L513.8 508.0 L513.9 506.2 L514.0 504.7 L514.1 503.3 L514.2 502.3Z" fill="#000"/>
<path d="M511.0 501.9 L510.9 503.0 L510.7 504.4 L510.5 505.9 L510.3 507.7 L510.1 509.6 L509.9 511.7 L509.6 513.8 L509.3 516.0 L508.9 518.2 L508.5 520.4 L508.1 522.6 L507.6 524.7 L507.0 526.7 L506.4 528.9 L505.8 531.0 L505.1 533.2 L504.4 535.4 L503.6 537.7 L502.8 539.9 L502.0 542.2 L501.1 544.4 L500.2 546.7 L499.2 549.0 L498.2 551.2 L497.1 553.5 L496.1 555.8 L495.0 558.1 L493.8 560.4 L492.7 562.7 L491.5 565.0 L490.2 567.3 L488.9 569.6 L487.5 571.9 L486.0 574.1 L484.5 576.3 L482.9 578.5 L481.2 580.6 L479.4 582.8 L477.6 584.9 L475.7 587.0 L473.8 589.1 L471.8 591.2 L469.7 593.3 L467.5 595.4 L465.3 597.4 L462.9 599.4 L460.5 601.4 L457.9 603.4 L455.3 605.5 L452.4 607.6 L449.5 609.7 L446.5 611.8 L443.3 613.9 L440.2 616.0 L436.9 618.0 L433.7 619.9 L430.5 621.7 L427.2 623.3 L424.0 624.8 L420.9 626.2 L417.7 627.4 L414.5 628.4 L411.3 629.4 L408.1 630.3 L404.8 631.1 L401.5 631.7 L398.2 632.3 L394.9 632.8 L391.6 633.2 L388.3 633.6 L385.0 633.8 L381.6 634.1 L378.4 634.2 L375.1 634.2 L371.7 634.2 L368.4 634.0 L365.0 633.8 L361.7 633.5 L358.4 633.2 L355.1 632.7 L351.8 632.2 L348.5 631.7 L345.3 631.0 L342.2 630.4 L339.1 629.6 L336.0 628.8 L332.9 627.9 L329.9 627.0 L326.9 626.0 L324.0 624.9 L321.1 623.8 L318.2 622.6 L315.3 621.3 L312.5 620.0 L309.7 618.6 L307.0 617.2 L304.3 615.7 L301.6 614.2 L299.0 612.6 L296.4 610.9 L293.9 609.1 L291.3 607.3 L288.8 605.4 L286.3 603.5 L283.9 601.6 L281.5 599.6 L279.1 597.5 L276.7 595.5 L274.4 593.4 L272.0 591.0 L269.5 588.5 L267.0 585.8 L264.6 583.1 L262.1 580.4 L259.8 577.8 L257.6 575.2 L255.6 572.9 L253.7 570.8 L252.1 569.0 L250.8 567.5 L239.2 578.5 L240.4 579.8 L242.0 581.4 L243.9 583.4 L246.0 585.7 L248.4 588.2 L250.9 590.8 L253.5 593.6 L256.2 596.3 L259.0 599.0 L261.8 601.7 L264.6 604.2 L267.3 606.5 L269.9 608.6 L272.5 610.7 L275.2 612.7 L277.9 614.7 L280.6 616.7 L283.4 618.6 L286.3 620.4 L289.1 622.2 L292.1 624.0 L295.0 625.7 L298.0 627.3 L301.0 628.8 L304.1 630.2 L307.2 631.6 L310.3 632.9 L313.5 634.2 L316.7 635.4 L319.9 636.5 L323.2 637.5 L326.4 638.5 L329.8 639.4 L333.1 640.2 L336.5 641.0 L339.8 641.6 L343.2 642.2 L346.7 642.8 L350.2 643.2 L353.7 643.6 L357.3 644.0 L360.9 644.2 L364.5 644.4 L368.1 644.5 L371.7 644.5 L375.2 644.4 L378.8 644.2 L382.4 643.9 L385.9 643.6 L389.4 643.2 L392.9 642.7 L396.4 642.1 L399.9 641.4 L403.4 640.6 L406.9 639.8 L410.4 638.8 L413.9 637.8 L417.3 636.6 L420.7 635.3 L424.1 633.8 L427.5 632.2 L430.9 630.5 L434.3 628.5 L437.7 626.5 L441.0 624.4 L444.3 622.2 L447.5 619.9 L450.6 617.6 L453.7 615.3 L456.6 613.0 L459.4 610.8 L462.1 608.6 L464.6 606.4 L467.1 604.2 L469.5 602.0 L471.7 599.8 L473.9 597.5 L476.0 595.3 L478.1 593.0 L480.0 590.7 L481.9 588.5 L483.7 586.2 L485.4 583.9 L487.1 581.5 L488.7 579.2 L490.2 576.8 L491.7 574.4 L493.0 572.0 L494.3 569.5 L495.5 567.1 L496.7 564.7 L497.8 562.3 L498.9 559.9 L499.9 557.5 L500.9 555.1 L501.8 552.8 L502.8 550.4 L503.7 548.1 L504.5 545.7 L505.4 543.4 L506.1 541.0 L506.9 538.7 L507.6 536.4 L508.2 534.1 L508.8 531.9 L509.4 529.7 L509.9 527.5 L510.4 525.3 L510.8 523.2 L511.2 520.9 L511.5 518.6 L511.8 516.4 L512.1 514.1 L512.2 511.9 L512.4 509.9 L512.6 507.9 L512.7 506.1 L512.8 504.6 L512.9 503.2 L513.0 502.1Z" fill="url(#gL)"/>
<path d="M227.2 543.75 L225 546 L230 586 L231.9 584.4 Z" fill="#000"/>
<path d="M227.2 543.75 L263 559.4 L231.9 584.4 Z" fill="#2B994A"/>
<path d="M522.1 420.5 L522.3 421.7 L522.6 423.2 L523.0 425.0 L523.4 427.1 L523.8 429.3 L524.3 431.6 L524.7 434.0 L525.3 436.5 L525.8 438.9 L526.3 441.3 L526.8 443.6 L527.3 445.7 L527.7 447.7 L528.2 449.6 L528.6 451.5 L529.0 453.4 L529.5 455.3 L530.0 457.1 L530.4 459.0 L531.0 461.0 L531.6 462.9 L532.2 465.0 L532.9 467.1 L533.7 469.3 L534.5 471.6 L535.3 473.9 L536.2 476.3 L537.1 478.7 L538.1 481.2 L539.2 483.7 L540.2 486.2 L541.4 488.8 L542.6 491.4 L543.9 494.1 L545.2 496.7 L546.6 499.3 L548.1 501.9 L549.5 504.6 L551.1 507.4 L552.7 510.2 L554.4 513.0 L556.1 515.8 L557.9 518.6 L559.8 521.4 L561.8 524.2 L563.9 526.9 L566.1 529.5 L568.3 532.1 L570.7 534.6 L573.2 537.0 L575.8 539.4 L578.5 541.7 L581.3 544.0 L584.1 546.2 L586.9 548.3 L589.7 550.4 L592.4 552.3 L595.2 554.1 L597.8 555.7 L600.5 557.3 L603.1 558.7 L605.7 559.9 L608.4 561.0 L610.9 561.9 L613.4 562.7 L615.8 563.4 L618.2 564.0 L620.4 564.5 L622.6 565.0 L624.6 565.4 L626.6 565.9 L628.5 566.3 L630.6 566.8 L632.8 567.2 L634.9 567.5 L637.0 567.8 L639.1 568.1 L641.0 568.3 L642.9 568.5 L644.6 568.6 L646.1 568.7 L647.4 568.9 L648.4 569.0 L649.3 569.1 L650.5 555.0 L649.5 555.0 L648.2 554.9 L646.9 554.9 L645.4 554.8 L643.7 554.8 L642.0 554.7 L640.2 554.6 L638.4 554.5 L636.5 554.3 L634.7 554.1 L632.8 553.9 L630.9 553.6 L629.0 553.2 L626.9 552.9 L624.9 552.6 L622.8 552.3 L620.7 551.9 L618.7 551.5 L616.6 551.0 L614.5 550.5 L612.3 549.8 L610.2 549.1 L608.0 548.2 L605.8 547.1 L603.4 545.9 L600.9 544.5 L598.3 543.0 L595.6 541.4 L592.9 539.7 L590.1 537.8 L587.4 535.9 L584.7 533.9 L582.1 531.9 L579.6 529.8 L577.2 527.7 L574.9 525.6 L572.8 523.5 L570.7 521.2 L568.7 518.8 L566.7 516.3 L564.8 513.8 L562.9 511.2 L561.1 508.6 L559.3 506.0 L557.6 503.4 L555.9 500.8 L554.3 498.2 L552.7 495.7 L551.3 493.3 L549.8 490.9 L548.5 488.4 L547.2 486.0 L545.9 483.6 L544.8 481.1 L543.6 478.7 L542.5 476.4 L541.5 474.1 L540.5 471.8 L539.5 469.5 L538.6 467.4 L537.7 465.3 L536.9 463.3 L536.2 461.4 L535.6 459.5 L535.0 457.7 L534.4 455.9 L533.8 454.1 L533.3 452.3 L532.7 450.4 L532.2 448.6 L531.7 446.7 L531.1 444.7 L530.5 442.6 L529.9 440.4 L529.2 438.1 L528.6 435.7 L527.9 433.3 L527.3 430.9 L526.7 428.6 L526.2 426.4 L525.7 424.4 L525.2 422.6 L524.8 421.1 L524.5 419.9Z" fill="#000"/>
<path d="M523.0 420.2 L523.3 421.4 L523.6 423.0 L524.0 424.8 L524.4 426.8 L524.8 429.0 L525.3 431.4 L525.8 433.8 L526.3 436.2 L526.9 438.7 L527.4 441.0 L527.9 443.3 L528.4 445.4 L528.9 447.4 L529.4 449.3 L529.8 451.2 L530.3 453.1 L530.7 454.9 L531.2 456.8 L531.7 458.7 L532.2 460.6 L532.8 462.5 L533.5 464.5 L534.2 466.6 L534.9 468.8 L535.8 471.0 L536.6 473.3 L537.5 475.7 L538.5 478.1 L539.5 480.6 L540.5 483.1 L541.6 485.6 L542.8 488.2 L544.0 490.7 L545.3 493.3 L546.6 495.9 L548.0 498.5 L549.5 501.1 L551.0 503.8 L552.5 506.5 L554.2 509.2 L555.8 512.0 L557.6 514.8 L559.4 517.6 L561.3 520.3 L563.3 523.0 L565.3 525.7 L567.5 528.3 L569.7 530.7 L572.1 533.1 L574.5 535.5 L577.1 537.8 L579.8 540.1 L582.5 542.4 L585.3 544.5 L588.1 546.6 L590.8 548.6 L593.6 550.4 L596.3 552.2 L598.9 553.8 L601.5 555.3 L604.1 556.6 L606.6 557.8 L609.1 558.8 L611.6 559.7 L614.0 560.5 L616.4 561.1 L618.7 561.7 L620.9 562.2 L623.0 562.7 L625.1 563.1 L627.0 563.5 L629.0 563.9 L631.0 564.3 L633.1 564.7 L635.2 565.1 L637.3 565.3 L639.3 565.6 L641.2 565.8 L643.0 565.9 L644.7 566.1 L646.2 566.2 L647.5 566.3 L648.6 566.4 L649.5 566.5 L650.5 554.5 L649.5 554.5 L648.3 554.4 L646.9 554.4 L645.4 554.3 L643.8 554.3 L642.1 554.2 L640.3 554.1 L638.4 554.0 L636.6 553.8 L634.7 553.6 L632.9 553.4 L631.0 553.1 L629.1 552.7 L627.0 552.4 L625.0 552.1 L622.9 551.8 L620.9 551.4 L618.8 551.0 L616.7 550.5 L614.6 550.0 L612.5 549.3 L610.4 548.6 L608.2 547.7 L606.0 546.7 L603.6 545.5 L601.1 544.1 L598.5 542.6 L595.9 541.0 L593.2 539.2 L590.4 537.4 L587.7 535.5 L585.0 533.5 L582.4 531.5 L579.9 529.4 L577.5 527.4 L575.3 525.3 L573.2 523.1 L571.1 520.9 L569.1 518.5 L567.1 516.0 L565.2 513.5 L563.3 511.0 L561.5 508.3 L559.7 505.7 L558.0 503.1 L556.3 500.5 L554.7 498.0 L553.2 495.5 L551.7 493.1 L550.3 490.6 L548.9 488.2 L547.6 485.8 L546.4 483.3 L545.2 480.9 L544.1 478.5 L543.0 476.2 L541.9 473.9 L540.9 471.6 L540.0 469.4 L539.1 467.2 L538.2 465.1 L537.4 463.1 L536.7 461.2 L536.0 459.4 L535.4 457.5 L534.9 455.7 L534.3 453.9 L533.8 452.1 L533.2 450.3 L532.7 448.4 L532.1 446.5 L531.6 444.6 L531.0 442.5 L530.3 440.3 L529.7 438.0 L529.1 435.6 L528.4 433.2 L527.8 430.8 L527.2 428.5 L526.7 426.3 L526.1 424.3 L525.7 422.5 L525.3 421.0 L525.0 419.8Z" fill="url(#pL)"/>
<path d="M649 554.6 L651.3 556 L649.6 558 L655.8 561.1 L650.8 563.6 L651.8 565.6 L649 566.8 Z" fill="#EFA190"/>
<path d="M686.0 565.9 L687.2 565.6 L688.7 565.3 L690.6 564.9 L692.8 564.5 L695.2 564.0 L697.9 563.5 L700.7 562.9 L703.7 562.1 L706.8 561.3 L709.9 560.3 L713.1 559.2 L716.3 558.0 L719.4 556.7 L722.6 555.2 L726.0 553.7 L729.4 552.0 L733.0 550.2 L736.5 548.4 L740.1 546.5 L743.6 544.5 L747.1 542.5 L750.5 540.4 L753.8 538.3 L757.0 536.2 L760.1 533.9 L763.2 531.5 L766.2 529.0 L769.1 526.5 L772.0 523.9 L774.7 521.4 L777.3 518.9 L779.8 516.5 L782.1 514.2 L784.2 512.1 L786.2 510.1 L788.1 508.4 L789.8 506.8 L791.4 505.2 L792.9 503.8 L794.3 502.4 L795.6 501.1 L796.7 500.0 L797.7 498.9 L798.7 498.0 L799.5 497.1 L800.2 496.4 L800.8 495.8 L801.3 495.2 L790.9 485.0 L790.3 485.6 L789.6 486.3 L788.9 487.0 L788.1 487.9 L787.2 488.8 L786.3 489.8 L785.2 490.9 L784.0 492.1 L782.7 493.4 L781.3 494.8 L779.8 496.2 L778.1 497.8 L776.2 499.7 L774.1 501.7 L771.9 503.8 L769.6 506.1 L767.2 508.5 L764.7 510.9 L762.1 513.3 L759.5 515.7 L756.9 518.0 L754.2 520.3 L751.5 522.4 L748.8 524.4 L745.9 526.3 L742.9 528.2 L739.8 530.2 L736.5 532.1 L733.2 533.9 L729.8 535.8 L726.5 537.5 L723.1 539.2 L719.9 540.8 L716.7 542.3 L713.7 543.6 L710.9 544.9 L708.2 545.9 L705.5 546.8 L702.8 547.7 L700.1 548.4 L697.5 549.1 L694.9 549.7 L692.4 550.2 L690.1 550.6 L687.9 551.1 L686.0 551.4 L684.2 551.8 L682.8 552.1Z" fill="#000"/>
<path d="M685.4 563.3 L686.6 563.0 L688.2 562.7 L690.1 562.4 L692.3 562.0 L694.7 561.5 L697.3 560.9 L700.1 560.3 L703.0 559.6 L706.0 558.8 L709.1 557.9 L712.2 556.8 L715.3 555.6 L718.4 554.3 L721.6 552.9 L724.9 551.3 L728.3 549.7 L731.8 547.9 L735.3 546.1 L738.8 544.2 L742.3 542.2 L745.8 540.2 L749.1 538.2 L752.4 536.1 L755.5 534.0 L758.6 531.8 L761.6 529.5 L764.5 527.0 L767.4 524.5 L770.2 522.0 L772.9 519.5 L775.5 517.0 L777.9 514.6 L780.3 512.3 L782.4 510.2 L784.4 508.3 L786.3 506.5 L788.0 504.9 L789.6 503.4 L791.1 501.9 L792.5 500.6 L793.7 499.3 L794.8 498.2 L795.9 497.1 L796.8 496.2 L797.6 495.3 L798.3 494.6 L798.9 493.9 L799.5 493.4 L790.5 484.6 L789.9 485.2 L789.3 485.9 L788.5 486.7 L787.7 487.5 L786.9 488.5 L785.9 489.5 L784.8 490.6 L783.7 491.7 L782.4 493.0 L781.0 494.4 L779.4 495.9 L777.7 497.5 L775.8 499.3 L773.7 501.3 L771.6 503.5 L769.3 505.8 L766.9 508.1 L764.4 510.5 L761.8 512.9 L759.2 515.3 L756.5 517.7 L753.9 519.9 L751.2 522.0 L748.5 524.0 L745.7 525.9 L742.7 527.8 L739.5 529.7 L736.3 531.6 L732.9 533.5 L729.6 535.3 L726.2 537.1 L722.9 538.8 L719.6 540.4 L716.5 541.8 L713.5 543.2 L710.7 544.4 L708.0 545.4 L705.4 546.4 L702.7 547.2 L700.0 547.9 L697.4 548.6 L694.8 549.2 L692.3 549.7 L690.0 550.2 L687.8 550.6 L685.9 550.9 L684.1 551.3 L682.6 551.7Z" fill="url(#rR)"/>
<path d="M810 462.5 L777 481 L805 503 Z" fill="#E52A27"/>
<path d="M685 551.5 L682.5 554.5 L684 556 L676.3 559.1 L683.5 560.8 L682 563 L685.5 564 Z" fill="#EE8C7A"/>
<path d="M677 569.7 L686 565.5 L688 567.5 Z" fill="#000"/>
<g clip-path="url(#cL)"><path d="M10.0 331.0 L16.2 332.3 L22.3 333.6 L28.5 334.9 L34.7 336.2 L40.8 337.5 L47.0 338.9 L53.1 340.3 L59.2 342.0 L65.2 343.9 L71.1 346.0 L77.1 348.1 L83.0 350.1 L88.9 352.4 L94.7 354.8 L100.6 357.0 L106.6 359.0 L112.6 360.8 L118.7 362.6 L124.8 364.1 L130.9 365.8 L136.9 367.6 L142.9 369.6 L148.8 371.7 L154.7 374.1 L160.4 376.7 L166.1 379.4 L171.7 382.2 L177.3 385.2 L182.7 388.4 L188.2 391.5 L193.6 394.7 L198.9 398.1 L204.2 401.6 L209.0 405.6 L213.7 409.8 L218.3 414.1 L222.9 418.4 L227.6 422.6 L232.5 426.6 L237.4 430.6 L241.9 434.9 L246.3 439.5 L250.4 444.2 L254.6 449.0 L258.7 453.8 L262.7 458.6 L266.8 463.4 L270.7 468.3 L274.7 473.3 L278.5 478.2 L282.3 483.2 L286.1 488.3 L289.9 493.4 L293.5 498.5 L297.2 503.6 L300.9 508.7 L304.6 513.8 L308.3 518.9 L312.0 524.0 L290.0 550.0 L284.6 547.4 L279.3 544.7 L273.9 542.1 L268.5 539.5 L263.1 537.0 L257.6 534.5 L252.2 532.2 L246.7 529.8 L241.2 527.5 L235.7 525.1 L230.1 522.9 L224.6 520.6 L219.1 518.3 L213.7 515.7 L208.3 513.1 L203.0 510.3 L197.8 507.5 L192.5 504.6 L187.3 501.6 L182.2 498.6 L177.1 495.5 L171.9 492.4 L166.8 489.3 L161.7 486.3 L156.6 483.2 L151.4 480.2 L146.3 477.1 L141.3 473.8 L136.4 470.4 L131.7 466.8 L127.0 463.1 L122.4 459.2 L118.1 455.0 L114.0 450.7 L109.9 446.4 L105.7 442.1 L101.6 437.7 L97.7 433.3 L93.9 428.6 L90.2 423.9 L86.8 419.0 L83.5 414.0 L80.2 409.0 L76.7 404.2 L73.0 399.5 L69.2 394.9 L65.3 390.3 L61.4 385.8 L57.2 381.5 L52.9 377.4 L48.4 373.4 L43.8 369.7 L38.9 366.2 L34.1 362.7 L29.3 359.2 L24.4 355.6 L19.6 352.1 L14.8 348.5 L10.0 345.0Z" fill="#EE9180"/>
<g clip-path="url(#mL)">
<path d="M10.0 332.4 L16.1 333.6 L22.2 334.8 L28.3 336.1 L34.3 337.6 L40.4 339.0 L46.5 340.5 L52.6 342.1 L58.5 343.9 L64.5 345.9 L70.3 348.1 L76.1 350.4 L82.0 352.6 L87.7 355.0 L93.4 357.5 L99.2 359.9 L105.0 362.1 L110.8 364.2 L116.7 366.1 L122.6 367.9 L128.5 369.7 L134.4 371.8 L140.2 374.0 L146.0 376.3 L151.8 378.8 L157.4 381.5 L163.0 384.4 L168.5 387.3 L174.0 390.3 L179.2 393.8 L184.4 397.2 L189.7 400.7 L194.8 404.2 L199.9 408.0 L204.6 412.1 L209.2 416.5 L213.7 420.9 L218.2 425.2 L222.8 429.5 L227.6 433.6 L232.4 437.7 L232.4 437.7 L227.4 434.0 L222.3 430.3 L217.4 426.4 L212.6 422.5 L207.8 418.5 L202.9 414.6 L197.9 411.0 L192.5 407.7 L187.1 404.6 L181.6 401.6 L176.0 398.6 L170.5 395.6 L165.1 392.6 L159.6 389.6 L154.1 386.7 L148.6 383.9 L143.0 381.3 L137.3 378.9 L131.6 376.6 L125.8 374.3 L120.1 372.3 L114.3 370.3 L108.6 368.2 L103.0 365.9 L97.3 363.5 L91.7 361.0 L86.2 358.3 L80.6 355.7 L74.9 353.3 L69.2 351.0 L63.5 348.6 L57.7 346.4 L51.8 344.4 L45.8 342.7 L39.9 341.1 L33.9 339.5 L27.9 337.8 L22.0 336.1 L16.0 334.2 L10.0 332.4Z" fill="#CF5C56"/>
<path d="M10.0 333.8 L15.9 335.3 L21.9 336.6 L27.9 338.1 L33.8 339.7 L39.8 341.4 L45.7 343.1 L51.7 344.9 L57.5 346.8 L63.3 349.1 L69.0 351.5 L74.6 354.0 L80.3 356.4 L85.8 359.0 L91.3 361.8 L96.9 364.4 L102.5 366.9 L108.0 369.2 L113.7 371.5 L119.3 373.6 L125.0 375.7 L130.7 378.1 L136.3 380.5 L141.9 382.9 L147.5 385.6 L153.0 388.6 L158.4 391.5 L163.8 394.6 L169.2 397.7 L174.5 401.0 L179.8 404.3 L185.1 407.6 L190.2 411.2 L195.3 414.9 L200.0 418.9 L204.6 423.2 L209.1 427.5 L213.7 431.8 L218.3 436.0 L223.1 440.0 L227.9 444.0 L232.4 448.3 L236.8 452.7 L241.1 457.3 L245.3 461.8 L245.3 461.8 L240.8 457.6 L236.3 453.5 L231.7 449.4 L226.8 445.6 L221.8 441.9 L216.7 438.4 L211.7 434.7 L206.9 430.8 L202.0 427.0 L197.1 423.3 L192.0 419.8 L186.6 416.6 L181.2 413.5 L175.8 410.3 L170.5 407.1 L165.3 403.8 L159.9 400.6 L154.6 397.5 L149.3 394.5 L143.9 391.5 L138.4 388.7 L132.9 386.0 L127.4 383.5 L122.0 380.9 L116.4 378.6 L111.0 376.2 L105.6 373.7 L100.2 371.1 L94.8 368.4 L89.5 365.7 L84.1 362.7 L78.7 359.9 L73.2 357.3 L67.7 354.7 L62.2 352.1 L56.6 349.7 L50.8 347.5 L45.0 345.6 L39.2 343.7 L33.3 341.9 L27.5 340.0 L21.7 338.0 L15.9 335.8 L10.0 333.8Z" fill="#CF5C56"/>
<path d="M10.0 335.2 L15.8 336.9 L21.6 338.5 L27.5 340.1 L33.3 341.9 L39.1 343.8 L45.0 345.7 L50.8 347.7 L56.5 349.8 L62.1 352.3 L67.6 354.9 L73.1 357.6 L78.6 360.2 L84.0 363.1 L89.3 366.0 L94.6 368.9 L99.9 371.6 L105.3 374.3 L110.6 376.9 L116.0 379.3 L121.5 381.7 L126.9 384.3 L132.4 387.0 L137.8 389.7 L143.2 392.5 L148.5 395.6 L153.8 398.8 L159.1 401.9 L164.4 405.1 L169.6 408.5 L174.9 411.8 L180.2 415.1 L185.4 418.4 L190.5 421.9 L195.3 425.9 L199.9 430.1 L204.5 434.3 L209.1 438.5 L213.8 442.6 L218.6 446.5 L223.4 450.5 L228.0 454.7 L232.4 459.0 L236.7 463.3 L241.1 467.7 L245.4 472.0 L249.8 476.3 L254.1 480.6 L254.1 480.6 L249.5 476.6 L244.9 472.7 L240.3 468.7 L235.7 464.8 L231.0 460.8 L226.3 457.0 L221.4 453.3 L216.3 449.8 L211.2 446.4 L206.1 442.8 L201.2 439.1 L196.3 435.5 L191.3 431.9 L186.1 428.5 L180.9 425.1 L175.7 421.8 L170.4 418.6 L165.2 415.3 L160.0 412.0 L154.8 408.7 L149.6 405.5 L144.4 402.2 L139.2 399.0 L133.9 396.0 L128.6 393.2 L123.3 390.3 L118.1 387.5 L112.8 384.8 L107.6 382.2 L102.5 379.3 L97.4 376.4 L92.3 373.4 L87.2 370.3 L82.1 367.2 L76.9 364.1 L71.6 361.3 L66.3 358.4 L60.9 355.6 L55.4 353.0 L49.8 350.6 L44.1 348.5 L38.5 346.4 L32.8 344.3 L27.1 342.2 L21.4 339.8 L15.7 337.5 L10.0 335.2Z" fill="#CF5C56"/>
<path d="M26.9 343.2 L32.6 345.0 L38.3 346.8 L44.1 348.6 L49.8 350.8 L55.4 353.2 L60.8 355.8 L66.2 358.7 L71.5 361.6 L76.7 364.5 L81.9 367.6 L87.0 370.8 L92.1 373.9 L97.1 376.9 L102.2 379.9 L107.2 382.9 L112.4 385.6 L117.6 388.4 L122.8 391.3 L128.0 394.2 L133.3 397.1 L138.5 400.2 L143.6 403.4 L148.7 406.8 L153.9 410.1 L159.1 413.4 L164.2 416.8 L169.4 420.1 L174.6 423.4 L179.8 426.8 L185.0 430.2 L190.0 433.8 L194.7 437.7 L199.3 441.8 L204.0 445.9 L208.7 449.9 L213.6 453.7 L218.4 457.6 L223.1 461.6 L227.6 465.7 L232.1 469.8 L236.5 474.0 L241.0 478.1 L245.5 482.2 L250.0 486.2 L254.5 490.1 L254.5 490.1 L249.8 486.4 L245.1 482.8 L240.3 479.0 L235.6 475.3 L230.9 471.5 L226.1 467.7 L221.3 464.0 L216.3 460.5 L211.2 457.0 L206.1 453.7 L201.0 450.2 L196.1 446.6 L191.1 443.1 L186.1 439.4 L181.1 435.9 L175.9 432.6 L170.7 429.3 L165.5 426.0 L160.4 422.7 L155.2 419.3 L150.1 415.9 L145.0 412.6 L140.0 409.2 L135.0 405.8 L129.9 402.7 L124.7 399.6 L119.6 396.5 L114.6 393.4 L109.6 390.5 L104.6 387.5 L99.8 384.3 L95.0 381.1 L90.1 377.8 L85.1 374.5 L80.2 371.2 L75.2 367.9 L70.1 364.8 L65.0 361.7 L59.7 358.7 L54.4 355.9 L49.0 353.4 L43.4 351.0 L37.9 348.4 L32.4 345.8 L26.9 343.2Z" fill="#CF5C56"/>
<path d="M15.5 340.4 L21.0 342.5 L26.6 344.5 L32.3 346.5 L37.8 348.8 L43.4 351.1 L48.9 353.4 L54.4 356.0 L59.7 358.9 L64.9 361.9 L70.0 365.0 L75.1 368.2 L80.1 371.4 L85.0 374.9 L89.9 378.2 L94.7 381.5 L99.5 384.8 L104.3 388.0 L109.2 391.1 L114.2 394.1 L119.2 397.3 L124.2 400.4 L129.3 403.6 L134.4 406.8 L139.4 410.2 L144.3 413.7 L149.4 417.1 L154.4 420.5 L159.5 424.0 L164.7 427.4 L169.8 430.7 L175.0 434.0 L180.1 437.4 L185.1 441.0 L189.8 445.0 L194.5 449.0 L199.1 452.9 L203.9 456.8 L208.7 460.6 L213.6 464.4 L218.3 468.3 L222.9 472.3 L227.4 476.3 L232.0 480.3 L236.6 484.2 L241.2 488.1 L245.8 491.9 L250.4 495.6 L250.4 495.6 L245.6 492.2 L240.7 488.8 L235.8 485.3 L230.9 481.8 L226.0 478.2 L221.2 474.7 L216.2 471.2 L211.2 467.8 L206.0 464.5 L200.8 461.3 L195.7 457.9 L190.7 454.5 L185.6 451.1 L180.5 447.8 L175.4 444.4 L170.3 441.1 L165.1 437.8 L159.9 434.5 L154.9 431.1 L149.8 427.7 L144.8 424.3 L139.9 420.8 L135.0 417.2 L130.1 413.7 L125.2 410.3 L120.3 407.0 L115.4 403.6 L110.6 400.3 L105.8 396.9 L101.1 393.6 L96.6 390.1 L92.1 386.5 L87.5 383.0 L82.8 379.4 L78.1 375.8 L73.3 372.3 L68.4 368.9 L63.5 365.6 L58.4 362.4 L53.2 359.4 L47.9 356.6 L42.5 354.0 L37.1 351.5 L31.7 348.9 L26.3 346.1 L20.9 343.2 L15.5 340.4Z" fill="#CF5C56"/>
<path d="M36.8 352.6 L42.3 354.8 L47.8 356.9 L53.2 359.5 L58.4 362.5 L63.4 365.8 L68.3 369.1 L73.2 372.5 L77.9 376.1 L82.6 379.7 L87.3 383.3 L91.9 386.9 L96.4 390.5 L100.8 394.1 L105.5 397.5 L110.2 400.9 L114.9 404.4 L119.8 407.8 L124.7 411.2 L129.5 414.6 L134.4 418.2 L139.2 421.9 L144.0 425.4 L149.0 428.9 L154.0 432.4 L159.1 435.9 L164.2 439.2 L169.3 442.6 L174.5 445.9 L179.5 449.3 L184.4 452.9 L189.1 456.7 L193.9 460.6 L198.7 464.4 L203.6 468.0 L208.4 471.7 L213.2 475.4 L217.9 479.2 L222.6 483.0 L227.3 486.8 L232.0 490.5 L236.8 494.1 L241.6 497.6 L246.4 501.1 L246.4 501.1 L241.4 497.9 L236.3 494.7 L231.3 491.4 L226.3 488.1 L221.4 484.7 L216.4 481.4 L211.4 478.0 L206.3 474.7 L201.1 471.5 L195.9 468.4 L190.8 465.1 L185.7 461.8 L180.6 458.5 L175.6 455.0 L170.6 451.6 L165.4 448.4 L160.3 445.1 L155.2 441.8 L150.1 438.4 L145.2 434.9 L140.2 431.4 L135.4 427.7 L130.7 424.0 L126.0 420.3 L121.2 416.7 L116.5 413.2 L111.8 409.7 L107.2 406.0 L102.7 402.4 L98.2 398.8 L93.9 395.0 L89.7 391.1 L85.3 387.3 L80.8 383.5 L76.3 379.7 L71.6 376.0 L67.0 372.4 L62.2 368.9 L57.3 365.5 L52.3 362.2 L47.2 359.0 L42.0 355.8 L36.8 352.6Z" fill="#CF5C56"/>
<path d="M20.4 346.5 L25.7 349.0 L31.1 351.4 L36.4 353.9 L41.7 356.7 L47.0 359.5 L52.2 362.5 L57.2 365.8 L62.1 369.2 L66.8 372.7 L71.5 376.4 L76.0 380.1 L80.5 384.0 L85.0 387.9 L89.3 391.7 L93.6 395.7 L97.8 399.5 L102.2 403.3 L106.6 407.0 L111.2 410.7 L115.8 414.3 L120.5 417.9 L125.2 421.6 L129.9 425.3 L134.5 429.1 L139.3 432.8 L144.2 436.4 L149.1 440.0 L154.1 443.5 L159.1 446.8 L164.2 450.2 L169.4 453.4 L174.3 456.9 L179.1 460.6 L183.9 464.4 L188.7 468.1 L193.5 471.8 L198.4 475.3 L203.3 478.9 L208.2 482.5 L213.0 486.1 L217.8 489.7 L222.6 493.3 L227.4 496.8 L232.3 500.2 L237.2 503.5 L237.2 503.5 L232.1 500.5 L226.9 497.5 L221.8 494.4 L216.7 491.2 L211.7 488.0 L206.5 484.9 L201.4 481.7 L196.1 478.6 L190.9 475.5 L185.8 472.4 L180.6 469.2 L175.5 466.0 L170.3 462.9 L165.1 459.8 L159.9 456.6 L154.9 453.3 L149.8 450.0 L144.9 446.5 L140.0 443.0 L135.1 439.3 L130.5 435.6 L125.9 431.7 L121.4 427.8 L116.8 424.0 L112.2 420.3 L107.7 416.5 L103.3 412.6 L99.1 408.6 L94.9 404.6 L90.9 400.5 L86.9 396.3 L82.8 392.2 L78.5 388.1 L74.2 384.1 L69.8 380.2 L65.3 376.3 L60.7 372.6 L56.0 369.0 L51.1 365.5 L46.1 362.3 L40.9 359.4 L35.8 356.4 L30.7 353.1 L25.6 349.8 L20.4 346.5Z" fill="#CF5C56"/>
<path d="M45.6 363.8 L50.8 366.6 L55.8 369.5 L60.6 372.9 L65.2 376.7 L69.6 380.6 L74.0 384.6 L78.2 388.7 L82.4 392.9 L86.5 397.0 L90.5 401.3 L94.4 405.5 L98.5 409.6 L102.7 413.6 L107.0 417.6 L111.4 421.5 L115.9 425.4 L120.5 429.2 L125.0 433.2 L129.5 437.1 L134.1 441.0 L138.8 444.7 L143.7 448.3 L148.6 451.8 L153.6 455.2 L158.6 458.6 L163.8 461.8 L168.8 465.1 L173.6 468.7 L178.5 472.3 L183.3 475.9 L188.2 479.5 L193.1 482.9 L198.1 486.4 L203.0 489.9 L207.9 493.3 L212.8 496.7 L217.7 500.1 L222.7 503.3 L222.7 503.3 L217.5 500.4 L212.3 497.4 L207.1 494.4 L201.9 491.4 L196.6 488.4 L191.4 485.4 L186.2 482.4 L181.0 479.4 L175.8 476.3 L170.6 473.2 L165.3 470.2 L160.2 467.2 L155.0 464.0 L149.9 460.8 L144.9 457.4 L140.1 453.9 L135.2 450.3 L130.5 446.6 L126.0 442.7 L121.6 438.6 L117.1 434.6 L112.7 430.7 L108.3 426.7 L104.0 422.6 L99.8 418.5 L95.8 414.2 L91.9 409.9 L88.2 405.5 L84.4 401.0 L80.5 396.6 L76.5 392.3 L72.4 388.1 L68.1 383.9 L63.9 379.9 L59.4 375.9 L54.9 371.9 L50.4 367.7 L45.6 363.8Z" fill="#CF5C56"/>
<path d="M49.6 370.0 L54.4 373.2 L59.2 376.5 L63.6 380.4 L67.9 384.6 L72.0 388.8 L76.1 393.1 L80.1 397.4 L84.0 401.9 L87.6 406.4 L91.3 411.0 L95.1 415.4 L99.1 419.7 L103.2 424.0 L107.4 428.1 L111.8 432.2 L116.1 436.2 L120.5 440.3 L124.8 444.4 L129.3 448.4 L134.0 452.2 L138.8 455.8 L143.6 459.4 L148.5 462.9 L153.6 466.2 L158.6 469.4 L163.6 472.8 L168.5 476.3 L173.4 479.7 L178.3 483.2 L183.3 486.6 L188.2 489.9 L193.2 493.3 L198.2 496.6 L203.2 499.8 L208.3 503.0 L208.3 503.0 L203.0 500.1 L197.7 497.3 L192.5 494.3 L187.2 491.4 L182.0 488.4 L176.8 485.4 L171.6 482.4 L166.3 479.5 L161.1 476.5 L155.8 473.6 L150.6 470.6 L145.6 467.4 L140.6 464.0 L135.8 460.4 L131.0 456.8 L126.4 453.0 L122.0 449.0 L117.7 444.8 L113.4 440.6 L109.1 436.5 L104.9 432.4 L100.7 428.1 L96.8 423.7 L92.9 419.2 L89.2 414.6 L85.7 409.9 L82.2 405.2 L78.5 400.6 L74.7 396.0 L70.7 391.6 L66.7 387.3 L62.6 383.0 L58.3 378.8 L54.0 374.3 L49.6 370.0Z" fill="#CF5C56"/>
</g></g>
<g clip-path="url(#cR)"><path d="M735.0 340.0 L740.2 341.5 L745.5 343.0 L750.7 344.6 L755.9 346.1 L761.2 347.8 L766.3 349.5 L771.4 351.5 L776.4 353.6 L781.4 355.8 L786.4 358.1 L791.3 360.5 L796.2 363.0 L801.0 365.4 L805.9 367.9 L810.8 370.4 L815.6 372.8 L820.5 375.3 L825.4 377.7 L830.3 380.1 L835.3 382.3 L840.3 384.5 L845.3 386.6 L850.3 388.9 L855.2 391.2 L860.1 393.7 L864.9 396.2 L869.7 398.8 L874.3 401.8 L878.7 405.0 L883.1 408.2 L887.4 411.5 L891.7 414.9 L896.0 418.2 L900.3 421.6 L904.5 425.1 L908.7 428.6 L912.8 432.2 L916.7 436.0 L920.5 439.9 L924.3 443.9 L927.9 447.9 L931.5 452.0 L935.0 456.2 L938.5 460.4 L941.9 464.7 L945.4 468.9 L948.9 473.1 L952.4 477.3 L955.9 481.4 L959.4 485.6 L962.9 489.8 L966.4 494.0 L969.7 498.3 L972.9 502.8 L976.2 507.1 L979.6 511.4 L983.1 515.6 L986.5 519.8 L990.0 524.0 L975.0 530.0 L970.5 527.5 L966.0 525.0 L961.4 522.5 L957.0 519.8 L952.7 517.0 L948.3 514.3 L943.8 511.8 L939.2 509.4 L934.5 507.2 L929.9 504.9 L925.2 502.7 L920.5 500.6 L915.7 498.6 L911.0 496.5 L906.4 494.2 L901.8 491.8 L897.2 489.4 L892.7 486.9 L888.2 484.3 L883.8 481.6 L879.5 478.8 L875.1 476.1 L870.5 473.6 L865.9 471.4 L861.3 468.9 L856.8 466.4 L852.4 463.7 L848.1 460.9 L844.0 457.7 L840.0 454.5 L836.0 451.1 L832.1 447.7 L828.2 444.3 L824.4 440.8 L820.7 437.3 L817.0 433.7 L813.3 430.1 L809.7 426.4 L806.1 422.6 L802.6 418.9 L799.1 415.0 L795.7 411.2 L792.4 407.2 L789.3 403.0 L786.3 398.9 L782.9 394.9 L779.4 391.2 L775.6 387.6 L771.9 384.0 L768.1 380.6 L764.2 377.1 L760.3 373.8 L756.2 370.5 L752.3 367.2 L748.7 363.5 L745.2 359.7 L741.8 355.8 L738.4 351.9 L735.0 348.0Z" fill="#EE9180"/>
<g clip-path="url(#mR)">
<path d="M735.0 340.8 L740.1 342.4 L745.2 343.9 L750.4 345.4 L755.5 347.1 L760.6 348.9 L765.7 350.8 L770.8 352.8 L775.7 355.0 L780.6 357.3 L785.5 359.7 L790.3 362.1 L795.1 364.7 L799.9 367.2 L804.7 369.8 L809.4 372.4 L814.2 375.0 L818.9 377.6 L823.7 380.1 L828.5 382.5 L833.4 384.9 L838.3 387.1 L843.2 389.4 L848.1 391.8 L853.0 394.2 L857.8 396.7 L862.5 399.4 L867.2 402.0 L871.8 405.0 L876.0 408.4 L880.3 411.8 L884.5 415.2 L888.7 418.7 L892.9 422.1 L897.0 425.6 L901.2 429.1 L905.3 432.6 L909.3 436.3 L913.2 440.0 L917.0 443.9 L920.7 447.9 L920.7 447.9 L916.8 444.2 L912.8 440.5 L908.7 437.0 L904.5 433.6 L900.2 430.3 L895.8 427.1 L891.4 424.0 L886.9 420.8 L882.5 417.7 L878.1 414.6 L873.6 411.5 L869.1 408.4 L864.6 405.4 L859.9 402.7 L855.3 400.0 L850.5 397.5 L845.7 395.0 L840.9 392.5 L836.1 390.2 L831.3 387.8 L826.5 385.4 L821.8 382.9 L817.1 380.2 L812.4 377.6 L807.8 374.9 L803.2 372.2 L798.5 369.5 L793.8 366.9 L789.1 364.3 L784.3 361.7 L779.6 359.3 L774.7 356.9 L769.9 354.6 L764.9 352.5 L759.9 350.5 L754.9 348.6 L749.9 346.7 L745.0 344.8 L740.0 342.7 L735.0 340.8Z" fill="#CF5C56"/>
<path d="M735.0 341.6 L739.9 343.4 L744.9 345.1 L749.9 346.9 L754.8 348.8 L759.8 350.7 L764.8 352.8 L769.7 354.9 L774.5 357.2 L779.3 359.7 L784.1 362.1 L788.8 364.7 L793.5 367.4 L798.2 370.0 L802.8 372.7 L807.4 375.5 L812.0 378.2 L816.6 381.0 L821.2 383.6 L825.9 386.2 L830.6 388.7 L835.4 391.1 L840.2 393.5 L844.9 396.0 L849.7 398.6 L854.4 401.2 L859.0 404.0 L863.7 406.7 L868.1 409.7 L872.5 412.9 L876.8 416.2 L881.0 419.5 L885.2 423.0 L889.4 426.4 L893.6 429.7 L897.8 433.2 L901.9 436.6 L906.0 440.1 L909.9 443.8 L913.7 447.7 L917.4 451.5 L921.2 455.4 L924.8 459.3 L928.5 463.2 L932.1 467.2 L932.1 467.2 L928.3 463.4 L924.5 459.7 L920.6 456.0 L916.7 452.4 L912.7 448.8 L908.7 445.2 L904.5 441.8 L900.2 438.6 L895.8 435.5 L891.4 432.4 L887.0 429.4 L882.5 426.3 L878.1 423.2 L873.7 420.0 L869.5 416.8 L865.1 413.6 L860.7 410.5 L856.1 407.8 L851.5 405.0 L846.9 402.3 L842.2 399.7 L837.6 397.1 L832.9 394.6 L828.2 392.0 L823.6 389.5 L819.0 386.8 L814.5 384.0 L810.0 381.2 L805.5 378.3 L801.1 375.4 L796.6 372.6 L792.1 369.8 L787.5 367.1 L782.8 364.5 L778.1 361.9 L773.4 359.3 L768.7 356.9 L763.8 354.7 L759.0 352.5 L754.2 350.4 L749.4 348.3 L744.6 346.0 L739.8 343.8 L735.0 341.6Z" fill="#CF5C56"/>
<path d="M735.0 342.4 L739.7 344.4 L744.5 346.4 L749.3 348.3 L754.1 350.4 L759.0 352.6 L763.8 354.8 L768.6 357.0 L773.4 359.5 L778.1 362.0 L782.7 364.6 L787.4 367.3 L791.9 370.0 L796.5 372.8 L800.9 375.7 L805.3 378.6 L809.7 381.5 L814.2 384.4 L818.7 387.2 L823.3 389.9 L827.9 392.5 L832.5 395.1 L837.2 397.7 L841.8 400.3 L846.4 403.0 L851.0 405.7 L855.5 408.5 L860.1 411.3 L864.5 414.4 L868.8 417.7 L873.0 420.9 L877.3 424.2 L881.6 427.4 L885.9 430.7 L890.1 434.0 L894.3 437.3 L898.5 440.7 L902.6 444.1 L906.5 447.7 L910.4 451.4 L914.2 455.2 L917.9 459.0 L921.7 462.7 L925.4 466.5 L929.1 470.3 L932.8 474.0 L936.6 477.7 L940.3 481.3 L940.3 481.3 L936.4 477.9 L932.5 474.4 L928.6 470.8 L924.7 467.3 L920.8 463.8 L916.8 460.3 L912.7 456.8 L908.7 453.4 L904.6 449.9 L900.4 446.6 L896.0 443.6 L891.6 440.6 L887.1 437.6 L882.6 434.7 L878.3 431.6 L873.9 428.4 L869.7 425.2 L865.4 422.0 L861.1 418.7 L856.8 415.6 L852.3 412.8 L847.8 409.9 L843.3 407.1 L838.8 404.4 L834.2 401.6 L829.7 399.0 L825.2 396.3 L820.7 393.5 L816.2 390.7 L811.9 387.8 L807.5 384.8 L803.3 381.7 L799.1 378.7 L794.7 375.7 L790.3 372.8 L785.8 370.0 L781.3 367.2 L776.7 364.5 L772.2 361.8 L767.5 359.3 L762.8 356.9 L758.1 354.6 L753.4 352.2 L748.8 349.9 L744.2 347.3 L739.7 344.8 L735.0 342.4Z" fill="#CF5C56"/>
<path d="M748.5 350.6 L753.2 352.8 L757.9 354.9 L762.7 357.0 L767.5 359.4 L772.1 362.0 L776.7 364.6 L781.2 367.4 L785.7 370.2 L790.1 373.0 L794.5 376.0 L798.9 379.0 L803.1 382.1 L807.3 385.2 L811.6 388.2 L815.9 391.1 L820.3 394.0 L824.8 396.8 L829.3 399.6 L833.8 402.3 L838.3 405.0 L842.7 407.9 L847.2 410.7 L851.6 413.6 L856.1 416.5 L860.4 419.6 L864.7 422.9 L868.9 426.2 L873.1 429.4 L877.4 432.6 L881.8 435.7 L886.1 438.8 L890.4 442.0 L894.6 445.2 L898.8 448.5 L902.8 452.0 L906.7 455.6 L910.6 459.2 L914.5 462.8 L918.3 466.4 L922.1 470.0 L926.0 473.6 L929.8 477.1 L933.7 480.6 L937.6 484.0 L941.5 487.4 L941.5 487.4 L937.4 484.2 L933.4 480.9 L929.3 477.6 L925.3 474.3 L921.3 470.9 L917.3 467.5 L913.2 464.2 L909.1 460.9 L905.0 457.5 L900.9 454.2 L896.6 451.0 L892.2 448.0 L887.7 445.2 L883.3 442.3 L878.9 439.3 L874.5 436.2 L870.2 433.1 L866.0 429.9 L861.8 426.6 L857.5 423.4 L853.2 420.3 L848.8 417.3 L844.4 414.4 L840.0 411.5 L835.6 408.6 L831.2 405.7 L826.8 402.9 L822.4 400.1 L818.1 397.2 L813.8 394.2 L809.5 391.1 L805.3 388.0 L801.3 384.8 L797.2 381.6 L793.0 378.5 L788.7 375.4 L784.3 372.5 L779.9 369.6 L775.5 366.8 L771.0 364.0 L766.5 361.4 L761.8 358.9 L757.3 356.2 L752.9 353.4 L748.5 350.6Z" fill="#CF5C56"/>
<path d="M739.3 346.7 L743.7 349.2 L748.2 351.5 L752.7 353.9 L757.2 356.4 L761.8 358.9 L766.4 361.4 L771.0 364.1 L775.4 366.9 L779.9 369.7 L784.3 372.6 L788.6 375.6 L792.9 378.7 L797.1 381.8 L801.1 385.0 L805.1 388.3 L809.3 391.5 L813.5 394.5 L817.8 397.6 L822.1 400.5 L826.5 403.4 L830.8 406.3 L835.2 409.2 L839.6 412.1 L843.9 415.0 L848.3 418.0 L852.7 421.0 L856.9 424.2 L861.1 427.4 L865.3 430.7 L869.5 434.0 L873.8 437.1 L878.2 440.2 L882.5 443.2 L886.8 446.3 L891.0 449.4 L895.2 452.7 L899.2 456.1 L903.2 459.6 L907.1 463.1 L911.0 466.6 L915.0 470.0 L918.9 473.5 L922.8 476.9 L926.7 480.3 L930.7 483.6 L934.7 486.8 L938.8 490.0 L938.8 490.0 L934.6 486.9 L930.4 483.9 L926.2 480.8 L922.1 477.7 L917.9 474.5 L913.8 471.4 L909.6 468.2 L905.4 465.1 L901.2 461.9 L897.0 458.7 L892.7 455.6 L888.2 452.8 L883.6 450.1 L879.1 447.3 L874.7 444.5 L870.3 441.5 L866.0 438.4 L861.7 435.2 L857.6 432.0 L853.4 428.7 L849.2 425.6 L844.8 422.5 L840.6 419.5 L836.3 416.4 L832.0 413.4 L827.8 410.4 L823.5 407.4 L819.3 404.4 L815.1 401.4 L810.9 398.2 L806.8 395.0 L802.8 391.7 L798.9 388.3 L795.1 384.9 L791.1 381.7 L786.9 378.5 L782.6 375.4 L778.4 372.4 L774.0 369.5 L769.7 366.6 L765.3 363.8 L760.7 361.1 L756.3 358.5 L751.9 355.8 L747.7 352.7 L743.6 349.7 L739.3 346.7Z" fill="#CF5C56"/>
<path d="M755.9 359.4 L760.4 361.8 L765.1 364.1 L769.6 366.7 L774.0 369.6 L778.3 372.5 L782.6 375.6 L786.8 378.7 L790.9 381.9 L794.9 385.2 L798.8 388.6 L802.6 392.0 L806.6 395.3 L810.7 398.6 L814.8 401.8 L819.0 404.9 L823.2 407.9 L827.4 411.0 L831.6 414.0 L835.8 417.1 L840.1 420.1 L844.3 423.2 L848.6 426.3 L852.8 429.5 L856.9 432.8 L861.1 436.1 L865.3 439.3 L869.6 442.4 L873.9 445.4 L878.3 448.3 L882.7 451.2 L887.1 454.1 L891.3 457.2 L895.4 460.5 L899.4 463.9 L903.4 467.3 L907.4 470.6 L911.5 473.9 L915.5 477.1 L919.6 480.3 L923.6 483.5 L927.7 486.5 L931.9 489.5 L936.1 492.5 L936.1 492.5 L931.8 489.7 L927.4 486.8 L923.1 484.0 L918.9 481.0 L914.6 478.0 L910.4 475.0 L906.1 472.0 L901.8 469.0 L897.6 465.9 L893.4 462.8 L889.0 459.9 L884.5 457.1 L879.9 454.5 L875.5 451.7 L871.1 448.9 L866.7 446.0 L862.4 443.0 L858.1 439.8 L854.0 436.5 L849.9 433.3 L845.7 430.1 L841.5 427.0 L837.3 423.8 L833.1 420.7 L829.0 417.6 L824.8 414.4 L820.7 411.3 L816.6 408.1 L812.5 404.9 L808.5 401.7 L804.6 398.3 L800.7 394.9 L797.0 391.3 L793.3 387.8 L789.4 384.4 L785.4 381.1 L781.2 377.9 L777.0 374.8 L772.8 371.7 L768.6 368.7 L764.3 365.6 L760.1 362.5 L755.9 359.4Z" fill="#CF5C56"/>
<path d="M742.9 352.0 L747.0 354.9 L751.1 357.7 L755.4 360.4 L759.8 363.2 L764.2 366.0 L768.5 368.9 L772.7 372.0 L776.9 375.0 L781.1 378.2 L785.2 381.4 L789.2 384.7 L793.1 388.1 L796.7 391.7 L800.4 395.3 L804.2 398.8 L808.2 402.2 L812.1 405.5 L816.2 408.7 L820.2 412.0 L824.3 415.1 L828.4 418.3 L832.5 421.5 L836.6 424.7 L840.8 427.9 L845.0 431.0 L849.1 434.2 L853.2 437.6 L857.3 440.8 L861.5 444.0 L865.8 447.1 L870.2 450.0 L874.5 452.9 L878.8 455.8 L883.2 458.7 L887.5 461.6 L891.6 464.8 L895.7 468.1 L899.7 471.4 L903.8 474.6 L908.0 477.7 L912.1 480.7 L916.3 483.8 L920.5 486.7 L924.7 489.6 L929.0 492.4 L929.0 492.4 L924.5 489.7 L920.1 487.1 L915.7 484.3 L911.4 481.5 L907.0 478.7 L902.7 475.9 L898.3 473.0 L894.0 470.0 L889.7 467.1 L885.3 464.2 L880.8 461.6 L876.1 459.1 L871.5 456.6 L867.0 453.9 L862.6 451.1 L858.3 448.1 L854.1 444.9 L850.0 441.7 L845.9 438.4 L841.8 435.1 L837.7 431.9 L833.6 428.7 L829.5 425.5 L825.5 422.2 L821.5 418.9 L817.5 415.6 L813.6 412.3 L809.7 409.0 L805.8 405.5 L802.0 402.0 L798.3 398.5 L794.7 394.7 L791.2 391.0 L787.5 387.4 L783.6 384.0 L779.6 380.7 L775.5 377.5 L771.4 374.3 L767.3 371.2 L763.1 368.1 L758.8 365.3 L754.5 362.3 L750.6 358.9 L746.8 355.4 L742.9 352.0Z" fill="#CF5C56"/>
<path d="M762.5 369.3 L766.9 372.0 L771.2 374.7 L775.4 377.8 L779.4 381.1 L783.4 384.4 L787.3 387.8 L791.0 391.4 L794.4 395.2 L797.9 399.0 L801.6 402.6 L805.4 406.1 L809.2 409.6 L813.1 413.0 L817.0 416.4 L820.9 419.7 L824.9 423.1 L828.9 426.4 L832.9 429.7 L836.9 433.0 L841.0 436.2 L845.1 439.5 L849.1 442.8 L853.2 446.1 L857.3 449.3 L861.6 452.3 L866.0 455.1 L870.4 457.9 L874.8 460.7 L879.2 463.4 L883.5 466.3 L887.7 469.4 L891.8 472.6 L895.9 475.7 L900.1 478.7 L904.4 481.6 L908.6 484.5 L912.9 487.3 L917.2 490.1 L917.2 490.1 L912.7 487.5 L908.2 484.9 L903.8 482.2 L899.3 479.5 L894.9 476.8 L890.5 474.0 L886.2 471.1 L881.8 468.3 L877.2 465.8 L872.5 463.5 L867.8 461.0 L863.3 458.4 L858.9 455.7 L854.6 452.7 L850.4 449.6 L846.3 446.3 L842.3 443.0 L838.3 439.7 L834.2 436.5 L830.2 433.1 L826.3 429.8 L822.4 426.4 L818.5 423.0 L814.6 419.6 L810.8 416.1 L807.0 412.6 L803.3 409.0 L799.6 405.4 L796.1 401.7 L792.7 397.8 L789.4 393.9 L785.8 390.2 L782.0 386.7 L778.1 383.3 L774.2 379.9 L770.2 376.5 L766.4 372.9 L762.5 369.3Z" fill="#CF5C56"/>
<path d="M765.5 374.5 L769.7 377.4 L773.9 380.3 L777.9 383.7 L781.8 387.1 L785.5 390.7 L789.1 394.4 L792.4 398.4 L795.7 402.3 L799.2 406.1 L802.8 409.7 L806.5 413.4 L810.2 416.9 L814.0 420.4 L817.8 423.9 L821.6 427.4 L825.5 430.8 L829.4 434.2 L833.4 437.6 L837.4 440.9 L841.4 444.2 L845.4 447.6 L849.4 450.9 L853.5 454.0 L857.8 457.0 L862.2 459.8 L866.5 462.6 L870.9 465.3 L875.4 467.9 L879.8 470.6 L884.0 473.5 L888.2 476.6 L892.4 479.6 L896.7 482.4 L901.1 485.2 L905.4 487.9 L905.4 487.9 L900.9 485.4 L896.4 482.8 L891.9 480.2 L887.5 477.4 L883.1 474.6 L878.7 471.9 L874.0 469.5 L869.3 467.2 L864.7 464.8 L860.1 462.4 L855.6 459.7 L851.3 456.8 L847.2 453.7 L843.1 450.5 L839.1 447.1 L835.1 443.8 L831.2 440.5 L827.3 437.1 L823.4 433.6 L819.6 430.2 L815.8 426.6 L812.1 423.1 L808.4 419.5 L804.7 415.8 L801.1 412.1 L797.6 408.4 L794.1 404.6 L790.9 400.5 L787.8 396.5 L784.3 392.6 L780.6 389.0 L776.8 385.5 L773.0 382.0 L769.3 378.2 L765.5 374.5Z" fill="#CF5C56"/>
</g></g>
<path d="M172.6 472.2 L168.5 605.5" stroke="#222" stroke-width="1.3"/>
<path d="M875.8 466.3 L871 599.5" stroke="#222" stroke-width="1.3"/>
<g><path d="M212.0 416.0 C209.7 416.5 203.1 418.0 198.0 419.0 C192.9 420.0 186.5 421.7 181.4 422.0 C176.3 422.3 172.2 421.1 167.6 420.6 C163.0 420.1 157.4 419.3 153.8 419.2 C150.2 419.1 147.5 419.8 146.2 419.9" fill="none" stroke="#D8902A" stroke-width="5.6" stroke-linecap="round" stroke-linejoin="round"/>
<path d="M198.0 417.0 C196.4 415.8 191.3 412.1 188.3 409.5 C185.3 406.9 182.8 404.2 180.0 401.2 C177.2 398.2 174.3 394.1 171.8 391.6 C169.3 389.1 167.1 386.6 164.8 386.0 C162.5 385.4 159.1 387.7 158.0 388.0" fill="none" stroke="#D8902A" stroke-width="5.6" stroke-linecap="round" stroke-linejoin="round"/>
<path d="M180.0 401.2 C178.4 400.5 173.2 397.7 170.4 397.0 C167.7 396.3 164.7 397.0 163.5 397.0" fill="none" stroke="#D8902A" stroke-width="5.6" stroke-linecap="round" stroke-linejoin="round"/>
<path d="M188.3 409.5 C186.7 408.8 181.4 405.6 178.7 405.4 C175.9 405.1 173.2 407.3 171.8 408.0 C170.4 408.7 170.6 409.2 170.4 409.5" fill="none" stroke="#D8902A" stroke-width="5.6" stroke-linecap="round" stroke-linejoin="round"/>
<path d="M181.4 422.6 C179.1 423.4 171.2 425.5 167.6 427.5 C164.0 429.5 161.4 430.7 160.0 434.4 C158.6 438.1 159.4 447.0 159.3 449.5" fill="none" stroke="#D8902A" stroke-width="5.6" stroke-linecap="round" stroke-linejoin="round"/>
<path d="M167.6 421.0 C165.8 421.6 159.6 423.2 156.6 424.7 C153.6 426.2 151.3 427.7 149.7 430.2 C148.1 432.7 147.4 438.3 146.9 439.9" fill="none" stroke="#D8902A" stroke-width="5.6" stroke-linecap="round" stroke-linejoin="round"/>
<path d="M185.0 424.0 C183.5 425.5 178.1 429.4 176.0 433.0 C173.9 436.6 173.0 443.3 172.4 445.4" fill="none" stroke="#D8902A" stroke-width="5.6" stroke-linecap="round" stroke-linejoin="round"/>
<path d="M212.0 417.0 C212.4 419.7 214.2 428.5 214.5 433.0 C214.8 437.5 214.8 440.8 213.9 444.0 C213.0 447.2 210.7 449.1 209.0 452.3 C207.3 455.5 204.4 461.5 203.5 463.3" fill="none" stroke="#D8902A" stroke-width="5.6" stroke-linecap="round" stroke-linejoin="round"/>
<path d="M213.9 444.0 C214.5 445.4 217.1 448.4 217.3 452.3 C217.5 456.2 215.5 465.0 215.2 467.5" fill="none" stroke="#D8902A" stroke-width="5.6" stroke-linecap="round" stroke-linejoin="round"/>
<path d="M209.0 449.5 C207.8 449.2 203.2 448.2 202.0 448.0" fill="none" stroke="#D8902A" stroke-width="5.6" stroke-linecap="round" stroke-linejoin="round"/>
<path d="M212.0 416.0 C209.7 416.5 203.1 418.0 198.0 419.0 C192.9 420.0 186.5 421.7 181.4 422.0 C176.3 422.3 172.2 421.1 167.6 420.6 C163.0 420.1 157.4 419.3 153.8 419.2 C150.2 419.1 147.5 419.8 146.2 419.9" fill="none" stroke="#F6BE48" stroke-width="4" stroke-linecap="round" stroke-linejoin="round"/>
<path d="M198.0 417.0 C196.4 415.8 191.3 412.1 188.3 409.5 C185.3 406.9 182.8 404.2 180.0 401.2 C177.2 398.2 174.3 394.1 171.8 391.6 C169.3 389.1 167.1 386.6 164.8 386.0 C162.5 385.4 159.1 387.7 158.0 388.0" fill="none" stroke="#F6BE48" stroke-width="4" stroke-linecap="round" stroke-linejoin="round"/>
<path d="M180.0 401.2 C178.4 400.5 173.2 397.7 170.4 397.0 C167.7 396.3 164.7 397.0 163.5 397.0" fill="none" stroke="#F6BE48" stroke-width="4" stroke-linecap="round" stroke-linejoin="round"/>
<path d="M188.3 409.5 C186.7 408.8 181.4 405.6 178.7 405.4 C175.9 405.1 173.2 407.3 171.8 408.0 C170.4 408.7 170.6 409.2 170.4 409.5" fill="none" stroke="#F6BE48" stroke-width="4" stroke-linecap="round" stroke-linejoin="round"/>
<path d="M181.4 422.6 C179.1 423.4 171.2 425.5 167.6 427.5 C164.0 429.5 161.4 430.7 160.0 434.4 C158.6 438.1 159.4 447.0 159.3 449.5" fill="none" stroke="#F6BE48" stroke-width="4" stroke-linecap="round" stroke-linejoin="round"/>
<path d="M167.6 421.0 C165.8 421.6 159.6 423.2 156.6 424.7 C153.6 426.2 151.3 427.7 149.7 430.2 C148.1 432.7 147.4 438.3 146.9 439.9" fill="none" stroke="#F6BE48" stroke-width="4" stroke-linecap="round" stroke-linejoin="round"/>
<path d="M185.0 424.0 C183.5 425.5 178.1 429.4 176.0 433.0 C173.9 436.6 173.0 443.3 172.4 445.4" fill="none" stroke="#F6BE48" stroke-width="4" stroke-linecap="round" stroke-linejoin="round"/>
<path d="M212.0 417.0 C212.4 419.7 214.2 428.5 214.5 433.0 C214.8 437.5 214.8 440.8 213.9 444.0 C213.0 447.2 210.7 449.1 209.0 452.3 C207.3 455.5 204.4 461.5 203.5 463.3" fill="none" stroke="#F6BE48" stroke-width="4" stroke-linecap="round" stroke-linejoin="round"/>
<path d="M213.9 444.0 C214.5 445.4 217.1 448.4 217.3 452.3 C217.5 456.2 215.5 465.0 215.2 467.5" fill="none" stroke="#F6BE48" stroke-width="4" stroke-linecap="round" stroke-linejoin="round"/>
<path d="M209.0 449.5 C207.8 449.2 203.2 448.2 202.0 448.0" fill="none" stroke="#F6BE48" stroke-width="4" stroke-linecap="round" stroke-linejoin="round"/>
<path d="M84.7 133.0 C83.4 131.8 79.5 128.3 77.0 126.0 C74.5 123.7 71.8 121.9 69.8 118.9 C67.8 115.9 66.2 111.3 64.8 108.1 C63.4 104.9 62.8 102.7 61.5 99.9 C60.2 97.2 58.3 94.1 57.3 91.6 C56.3 89.1 56.0 86.0 55.7 84.9" fill="none" stroke="#2A87B1" stroke-width="1.5" stroke-linecap="round" stroke-linejoin="round"/>
<path d="M57.3 91.6 C57.6 90.3 59.0 85.3 59.4 84.1" fill="none" stroke="#2A87B1" stroke-width="1.5" stroke-linecap="round" stroke-linejoin="round"/>
<path d="M64.8 108.1 C65.1 106.7 66.2 102.9 66.5 99.9 C66.8 96.9 66.5 91.6 66.5 89.9" fill="none" stroke="#2A87B1" stroke-width="1.5" stroke-linecap="round" stroke-linejoin="round"/>
<path d="M69.8 118.9 C70.3 117.4 72.5 113.0 73.1 109.8 C73.6 106.6 72.5 101.8 73.1 99.9 C73.6 98.0 75.8 99.5 76.4 98.2 C77.0 97.0 76.7 93.4 76.8 92.4" fill="none" stroke="#2A87B1" stroke-width="1.5" stroke-linecap="round" stroke-linejoin="round"/>
<path d="M66.0 114.0 C64.2 113.3 57.7 112.3 54.9 109.8 C52.1 107.3 50.1 100.8 49.1 99.0" fill="none" stroke="#2A87B1" stroke-width="1.5" stroke-linecap="round" stroke-linejoin="round"/>
<path d="M64.0 114.5 C61.8 115.0 52.9 116.8 50.7 117.3" fill="none" stroke="#2A87B1" stroke-width="1.5" stroke-linecap="round" stroke-linejoin="round"/>
<path d="M65.0 117.0 C65.4 118.3 66.9 123.4 67.3 124.7" fill="none" stroke="#2A87B1" stroke-width="1.5" stroke-linecap="round" stroke-linejoin="round"/>
<path d="M54.9 109.8 C55.0 108.2 55.6 101.6 55.7 99.9" fill="none" stroke="#2A87B1" stroke-width="1.5" stroke-linecap="round" stroke-linejoin="round"/>
<path d="M137.3 119.7 C136.3 117.9 133.3 111.7 131.5 108.9 C129.7 106.1 128.2 104.5 126.5 103.1 C124.8 101.7 122.6 102.3 121.5 100.7 C120.4 99.1 120.7 95.4 119.9 93.2 C119.1 91.0 117.8 89.2 116.5 87.4 C115.2 85.6 113.4 84.0 112.4 82.4 C111.4 80.8 110.7 78.7 110.3 77.9" fill="none" stroke="#2A87B1" stroke-width="1.5" stroke-linecap="round" stroke-linejoin="round"/>
<path d="M112.4 82.4 C111.6 81.9 108.2 80.0 107.4 79.5" fill="none" stroke="#2A87B1" stroke-width="1.5" stroke-linecap="round" stroke-linejoin="round"/>
<path d="M121.5 100.7 C120.8 100.5 118.8 100.8 117.4 99.8 C116.0 98.8 114.7 96.8 113.2 94.9 C111.7 93.0 109.8 89.9 108.3 88.2 C106.8 86.5 104.8 85.1 104.1 84.5" fill="none" stroke="#2A87B1" stroke-width="1.5" stroke-linecap="round" stroke-linejoin="round"/>
<path d="M126.5 103.1 C126.8 102.0 128.0 98.6 128.1 96.5 C128.2 94.4 128.3 92.6 127.3 90.7 C126.3 88.8 123.8 86.6 122.3 84.9 C120.8 83.2 118.9 81.5 118.2 80.8" fill="none" stroke="#2A87B1" stroke-width="1.5" stroke-linecap="round" stroke-linejoin="round"/>
<path d="M127.8 92.0 C128.1 91.1 129.6 88.3 129.8 86.6 C130.0 84.9 129.1 82.4 129.0 81.6" fill="none" stroke="#2A87B1" stroke-width="1.5" stroke-linecap="round" stroke-linejoin="round"/>
<path d="M137.3 119.7 C137.9 119.2 140.1 118.1 140.6 116.4 C141.1 114.8 140.9 112.4 140.6 109.8 C140.2 107.2 138.8 102.2 138.5 100.7" fill="none" stroke="#2A87B1" stroke-width="1.5" stroke-linecap="round" stroke-linejoin="round"/>
<path d="M138.0 121.0 C138.8 121.3 141.5 123.1 143.0 123.0 C144.5 122.9 145.8 120.3 147.2 120.5 C148.6 120.7 149.4 123.3 151.3 123.9 C153.2 124.5 157.6 124.2 158.8 124.3" fill="none" stroke="#2A87B1" stroke-width="1.5" stroke-linecap="round" stroke-linejoin="round"/>
<path d="M181.0 162.0 C182.1 161.2 186.5 159.5 187.4 157.3 C188.3 155.1 186.0 151.7 186.2 148.6 C186.4 145.5 188.2 140.3 188.6 138.7" fill="none" stroke="#2A87B1" stroke-width="1.5" stroke-linecap="round" stroke-linejoin="round"/>
<path d="M186.5 151.0 C185.6 150.2 182.1 147.0 181.2 146.2" fill="none" stroke="#2A87B1" stroke-width="1.5" stroke-linecap="round" stroke-linejoin="round"/>
<path d="M187.0 152.0 C187.8 151.2 191.0 148.2 191.8 147.4" fill="none" stroke="#2A87B1" stroke-width="1.5" stroke-linecap="round" stroke-linejoin="round"/>
<path d="M187.4 157.3 C189.3 157.3 196.7 157.3 198.6 157.3" fill="none" stroke="#2A87B1" stroke-width="1.5" stroke-linecap="round" stroke-linejoin="round"/>
<path d="M187.4 158.0 C189.1 158.7 194.8 161.2 197.3 162.3 C199.8 163.4 200.0 165.0 202.3 164.8 C204.6 164.6 209.6 161.7 211.0 161.1" fill="none" stroke="#2A87B1" stroke-width="1.5" stroke-linecap="round" stroke-linejoin="round"/>
<path d="M202.3 164.8 C204.2 165.2 211.6 166.9 213.5 167.3" fill="none" stroke="#2A87B1" stroke-width="1.5" stroke-linecap="round" stroke-linejoin="round"/>
<path d="M199.0 164.0 C200.4 165.2 204.5 168.8 207.3 171.0 C210.1 173.2 214.6 176.2 216.0 177.2" fill="none" stroke="#2A87B1" stroke-width="1.5" stroke-linecap="round" stroke-linejoin="round"/>
<path d="M206.0 168.0 C207.2 168.7 212.2 171.6 213.5 172.3" fill="none" stroke="#2A87B1" stroke-width="1.5" stroke-linecap="round" stroke-linejoin="round"/>
<path d="M210.0 196.5 C211.2 196.2 214.8 195.1 217.2 194.6 C219.6 194.1 222.2 194.0 224.7 193.4 C227.2 192.8 230.5 192.4 232.2 190.9 C233.8 189.4 234.6 186.2 234.6 184.7 C234.6 183.2 232.4 182.4 232.0 182.0" fill="none" stroke="#2A87B1" stroke-width="1.5" stroke-linecap="round" stroke-linejoin="round"/>
<path d="M230.0 191.5 C229.9 190.2 229.8 184.8 229.7 183.5" fill="none" stroke="#2A87B1" stroke-width="1.5" stroke-linecap="round" stroke-linejoin="round"/>
<path d="M232.2 190.9 C234.3 191.3 240.9 192.8 244.6 193.4 C248.3 194.0 252.8 194.4 254.5 194.6" fill="none" stroke="#2A87B1" stroke-width="1.5" stroke-linecap="round" stroke-linejoin="round"/>
<path d="M224.0 195.0 C225.8 195.3 231.2 196.1 234.6 197.1 C238.0 198.1 241.3 199.7 244.6 200.9 C247.9 202.2 252.8 204.0 254.5 204.6" fill="none" stroke="#2A87B1" stroke-width="1.5" stroke-linecap="round" stroke-linejoin="round"/>
<path d="M219.0 196.0 C220.2 197.4 223.3 202.1 225.9 204.6 C228.5 207.1 232.3 209.2 234.6 210.8 C236.9 212.5 238.8 213.9 239.6 214.5" fill="none" stroke="#2A87B1" stroke-width="1.5" stroke-linecap="round" stroke-linejoin="round"/>
<path d="M225.9 204.6 C226.1 205.8 226.2 209.9 227.2 212.0 C228.2 214.1 231.2 216.2 232.0 217.0" fill="none" stroke="#2A87B1" stroke-width="1.5" stroke-linecap="round" stroke-linejoin="round"/>
<path d="M234.6 199.0 C235.4 200.3 237.5 205.3 239.6 207.1 C241.7 208.9 245.8 209.2 247.0 209.6" fill="none" stroke="#2A87B1" stroke-width="1.5" stroke-linecap="round" stroke-linejoin="round"/>
<path d="M133.4 269.7 C132.8 271.0 130.9 275.0 130.0 277.4 C129.1 279.8 129.0 281.8 128.0 284.2 C127.0 286.6 125.2 289.2 124.2 291.9 C123.2 294.6 122.4 297.9 122.2 300.6 C122.0 303.4 122.9 305.2 123.2 308.4 C123.5 311.6 124.0 318.1 124.2 320.0" fill="none" stroke="#2A87B1" stroke-width="1.5" stroke-linecap="round" stroke-linejoin="round"/>
<path d="M124.2 291.9 C123.2 292.1 121.0 293.2 118.4 292.9 C115.8 292.6 110.3 290.5 108.7 290.0" fill="none" stroke="#2A87B1" stroke-width="1.5" stroke-linecap="round" stroke-linejoin="round"/>
<path d="M118.4 292.9 C117.6 293.5 114.2 294.6 113.5 296.8 C112.8 299.1 114.2 303.5 114.5 306.4 C114.8 309.3 115.5 311.4 115.5 314.2 C115.5 316.9 114.7 321.4 114.5 322.9" fill="none" stroke="#2A87B1" stroke-width="1.5" stroke-linecap="round" stroke-linejoin="round"/>
<path d="M113.5 296.8 C112.5 296.8 108.7 296.8 107.7 296.8" fill="none" stroke="#2A87B1" stroke-width="1.5" stroke-linecap="round" stroke-linejoin="round"/>
<path d="M130.5 279.0 C130.6 280.7 130.6 285.4 131.0 289.0 C131.4 292.6 132.9 297.1 132.9 300.6 C132.9 304.2 131.0 306.8 131.0 310.3 C131.0 313.9 132.6 320.0 132.9 321.9" fill="none" stroke="#2A87B1" stroke-width="1.5" stroke-linecap="round" stroke-linejoin="round"/>
<path d="M132.9 300.6 C133.6 301.4 134.9 303.9 136.8 305.5 C138.7 307.1 142.7 308.5 144.5 310.3 C146.3 312.1 147.2 314.3 147.4 316.1 C147.6 317.9 145.8 320.2 145.5 321.0" fill="none" stroke="#2A87B1" stroke-width="1.5" stroke-linecap="round" stroke-linejoin="round"/>
<path d="M132.0 278.0 C133.1 279.4 136.8 283.9 138.7 286.1 C140.6 288.3 142.4 288.9 143.5 291.0 C144.6 293.1 144.7 296.3 145.5 298.7 C146.3 301.1 147.1 303.6 148.4 305.5 C149.7 307.4 152.4 309.5 153.2 310.3" fill="none" stroke="#2A87B1" stroke-width="1.5" stroke-linecap="round" stroke-linejoin="round"/>
<path d="M143.5 291.0 C144.6 292.3 148.2 297.1 150.3 298.7 C152.4 300.3 154.5 299.6 156.1 300.6 C157.7 301.6 159.3 303.9 160.0 304.5" fill="none" stroke="#2A87B1" stroke-width="1.5" stroke-linecap="round" stroke-linejoin="round"/>
<path d="M128.0 278.0 C126.9 278.2 122.4 279.1 121.3 279.3" fill="none" stroke="#2A87B1" stroke-width="1.5" stroke-linecap="round" stroke-linejoin="round"/>
<path d="M74.2 214.2 C72.6 214.3 67.9 215.3 64.5 215.1 C61.1 214.9 57.2 213.7 53.8 213.2 C50.4 212.7 47.7 210.9 44.2 212.2 C40.7 213.5 34.5 219.5 32.6 221.0" fill="none" stroke="#2A87B1" stroke-width="1.5" stroke-linecap="round" stroke-linejoin="round"/>
<path d="M45.0 212.0 C44.2 211.2 41.1 208.2 40.3 207.4" fill="none" stroke="#2A87B1" stroke-width="1.5" stroke-linecap="round" stroke-linejoin="round"/>
<path d="M49.0 212.7 C48.8 211.5 48.2 206.7 48.0 205.5" fill="none" stroke="#2A87B1" stroke-width="1.5" stroke-linecap="round" stroke-linejoin="round"/>
<path d="M58.0 215.0 C58.9 214.1 62.6 210.2 63.5 209.3" fill="none" stroke="#2A87B1" stroke-width="1.5" stroke-linecap="round" stroke-linejoin="round"/>
<path d="M64.0 216.0 C62.0 216.5 56.0 217.5 51.9 219.0 C47.8 220.5 41.4 223.8 39.3 224.8" fill="none" stroke="#2A87B1" stroke-width="1.5" stroke-linecap="round" stroke-linejoin="round"/>
<path d="M63.0 217.0 C61.0 218.3 54.5 223.0 50.9 224.8 C47.3 226.6 42.9 227.2 41.3 227.7" fill="none" stroke="#2A87B1" stroke-width="1.5" stroke-linecap="round" stroke-linejoin="round"/>
<path d="M50.9 224.8 C50.4 225.8 48.3 228.8 48.0 230.6 C47.7 232.4 49.8 233.6 49.0 235.5 C48.2 237.4 44.2 241.1 43.2 242.2" fill="none" stroke="#2A87B1" stroke-width="1.5" stroke-linecap="round" stroke-linejoin="round"/>
<path d="M47.0 229.0 C45.7 230.9 40.6 238.4 39.3 240.3" fill="none" stroke="#2A87B1" stroke-width="1.5" stroke-linecap="round" stroke-linejoin="round"/>
<path d="M65.5 216.0 C65.7 217.8 67.2 224.2 66.4 226.8 C65.6 229.4 62.4 229.3 60.6 231.6 C58.8 233.8 56.6 238.9 55.8 240.3" fill="none" stroke="#2A87B1" stroke-width="1.5" stroke-linecap="round" stroke-linejoin="round"/>
<path d="M60.6 231.6 C60.8 232.7 61.6 236.0 61.6 238.4 C61.6 240.8 60.8 244.8 60.6 246.1" fill="none" stroke="#2A87B1" stroke-width="1.5" stroke-linecap="round" stroke-linejoin="round"/>
<path d="M71.4 122.0 C72.5 122.0 84.3 135.4 89.6 139.7 C94.8 144.0 97.9 146.1 102.9 148.0 C107.9 149.9 114.8 152.1 119.5 151.3 C124.2 150.5 128.3 147.7 131.1 143.0 C133.9 138.3 134.7 122.5 136.1 123.0 C137.5 123.5 137.2 140.2 139.4 146.3 C141.6 152.4 145.0 156.3 149.4 159.6 C153.8 162.9 160.9 166.1 166.0 166.2 C171.1 166.3 179.2 158.9 180.0 160.0 C180.8 161.1 172.2 168.5 171.0 172.9 C169.8 177.3 170.1 182.6 172.6 186.2 C175.1 189.8 179.3 192.8 186.0 194.5 C192.7 196.2 211.3 195.7 213.0 196.5 C214.7 197.3 200.7 196.7 195.9 199.4 C191.1 202.1 186.2 207.7 184.3 212.7 C182.4 217.7 182.0 224.2 184.3 229.3 C186.6 234.4 199.9 240.2 198.0 243.0 C196.1 245.8 180.7 244.4 172.6 246.0 C164.5 247.6 155.5 249.3 149.4 252.6 C143.3 255.9 138.9 262.4 136.1 265.8 C133.3 269.2 134.5 276.3 132.8 273.0 C131.2 269.7 130.1 253.8 126.2 246.0 C122.3 238.2 116.2 231.0 109.6 226.0 C102.9 221.0 93.2 217.9 86.3 216.0 C79.4 214.1 68.0 216.1 68.0 214.4 C68.0 212.7 81.9 209.6 86.3 206.0 C90.7 202.4 92.9 198.3 94.6 192.8 C96.3 187.3 96.6 179.0 96.3 172.9 C96.0 166.8 95.2 161.8 93.0 156.3 C90.8 150.8 86.6 145.4 83.0 139.7 C79.4 134.0 70.3 122.0 71.4 122.0Z" fill="url(#nb)"/>
<path d="M190 238 L203 244 L199 252 L188 248Z" fill="#1E7BA5"/>
<ellipse cx="142" cy="209" rx="16.6" ry="13.4" transform="rotate(12 142 209)" fill="url(#nuc)"/>
<rect x="190.1" y="255.0" width="69.0" height="24.0" rx="12.0" fill="url(#my)" transform="rotate(33.0 224.6 267.0)"/>
<rect x="236.4" y="298.0" width="56.0" height="26.0" rx="13.0" fill="url(#my)" transform="rotate(54.0 264.4 311.0)"/>
<rect x="252.7" y="345.0" width="46.0" height="21.0" rx="10.5" fill="url(#my)" transform="rotate(93.0 275.7 355.5)"/>
<rect x="236.8" y="383.2" width="43.0" height="18.5" rx="9.2" fill="url(#my)" transform="rotate(132.0 258.3 392.5)"/>
<rect x="211.5" y="404.8" width="33.0" height="15.5" rx="7.8" fill="url(#my)" transform="rotate(162.0 228.0 412.5)"/></g>
<g transform="translate(828 264.6) scale(0.73) translate(-142 -209)"><path d="M212.0 416.0 C209.7 416.5 203.1 418.0 198.0 419.0 C192.9 420.0 186.5 421.7 181.4 422.0 C176.3 422.3 172.2 421.1 167.6 420.6 C163.0 420.1 157.4 419.3 153.8 419.2 C150.2 419.1 147.5 419.8 146.2 419.9" fill="none" stroke="#D8902A" stroke-width="5.6" stroke-linecap="round" stroke-linejoin="round"/>
<path d="M198.0 417.0 C196.4 415.8 191.3 412.1 188.3 409.5 C185.3 406.9 182.8 404.2 180.0 401.2 C177.2 398.2 174.3 394.1 171.8 391.6 C169.3 389.1 167.1 386.6 164.8 386.0 C162.5 385.4 159.1 387.7 158.0 388.0" fill="none" stroke="#D8902A" stroke-width="5.6" stroke-linecap="round" stroke-linejoin="round"/>
<path d="M180.0 401.2 C178.4 400.5 173.2 397.7 170.4 397.0 C167.7 396.3 164.7 397.0 163.5 397.0" fill="none" stroke="#D8902A" stroke-width="5.6" stroke-linecap="round" stroke-linejoin="round"/>
<path d="M188.3 409.5 C186.7 408.8 181.4 405.6 178.7 405.4 C175.9 405.1 173.2 407.3 171.8 408.0 C170.4 408.7 170.6 409.2 170.4 409.5" fill="none" stroke="#D8902A" stroke-width="5.6" stroke-linecap="round" stroke-linejoin="round"/>
<path d="M181.4 422.6 C179.1 423.4 171.2 425.5 167.6 427.5 C164.0 429.5 161.4 430.7 160.0 434.4 C158.6 438.1 159.4 447.0 159.3 449.5" fill="none" stroke="#D8902A" stroke-width="5.6" stroke-linecap="round" stroke-linejoin="round"/>
<path d="M167.6 421.0 C165.8 421.6 159.6 423.2 156.6 424.7 C153.6 426.2 151.3 427.7 149.7 430.2 C148.1 432.7 147.4 438.3 146.9 439.9" fill="none" stroke="#D8902A" stroke-width="5.6" stroke-linecap="round" stroke-linejoin="round"/>
<path d="M185.0 424.0 C183.5 425.5 178.1 429.4 176.0 433.0 C173.9 436.6 173.0 443.3 172.4 445.4" fill="none" stroke="#D8902A" stroke-width="5.6" stroke-linecap="round" stroke-linejoin="round"/>
<path d="M212.0 417.0 C212.4 419.7 214.2 428.5 214.5 433.0 C214.8 437.5 214.8 440.8 213.9 444.0 C213.0 447.2 210.7 449.1 209.0 452.3 C207.3 455.5 204.4 461.5 203.5 463.3" fill="none" stroke="#D8902A" stroke-width="5.6" stroke-linecap="round" stroke-linejoin="round"/>
<path d="M213.9 444.0 C214.5 445.4 217.1 448.4 217.3 452.3 C217.5 456.2 215.5 465.0 215.2 467.5" fill="none" stroke="#D8902A" stroke-width="5.6" stroke-linecap="round" stroke-linejoin="round"/>
<path d="M209.0 449.5 C207.8 449.2 203.2 448.2 202.0 448.0" fill="none" stroke="#D8902A" stroke-width="5.6" stroke-linecap="round" stroke-linejoin="round"/>
<path d="M212.0 416.0 C209.7 416.5 203.1 418.0 198.0 419.0 C192.9 420.0 186.5 421.7 181.4 422.0 C176.3 422.3 172.2 421.1 167.6 420.6 C163.0 420.1 157.4 419.3 153.8 419.2 C150.2 419.1 147.5 419.8 146.2 419.9" fill="none" stroke="#F6BE48" stroke-width="4" stroke-linecap="round" stroke-linejoin="round"/>
<path d="M198.0 417.0 C196.4 415.8 191.3 412.1 188.3 409.5 C185.3 406.9 182.8 404.2 180.0 401.2 C177.2 398.2 174.3 394.1 171.8 391.6 C169.3 389.1 167.1 386.6 164.8 386.0 C162.5 385.4 159.1 387.7 158.0 388.0" fill="none" stroke="#F6BE48" stroke-width="4" stroke-linecap="round" stroke-linejoin="round"/>
<path d="M180.0 401.2 C178.4 400.5 173.2 397.7 170.4 397.0 C167.7 396.3 164.7 397.0 163.5 397.0" fill="none" stroke="#F6BE48" stroke-width="4" stroke-linecap="round" stroke-linejoin="round"/>
<path d="M188.3 409.5 C186.7 408.8 181.4 405.6 178.7 405.4 C175.9 405.1 173.2 407.3 171.8 408.0 C170.4 408.7 170.6 409.2 170.4 409.5" fill="none" stroke="#F6BE48" stroke-width="4" stroke-linecap="round" stroke-linejoin="round"/>
<path d="M181.4 422.6 C179.1 423.4 171.2 425.5 167.6 427.5 C164.0 429.5 161.4 430.7 160.0 434.4 C158.6 438.1 159.4 447.0 159.3 449.5" fill="none" stroke="#F6BE48" stroke-width="4" stroke-linecap="round" stroke-linejoin="round"/>
<path d="M167.6 421.0 C165.8 421.6 159.6 423.2 156.6 424.7 C153.6 426.2 151.3 427.7 149.7 430.2 C148.1 432.7 147.4 438.3 146.9 439.9" fill="none" stroke="#F6BE48" stroke-width="4" stroke-linecap="round" stroke-linejoin="round"/>
<path d="M185.0 424.0 C183.5 425.5 178.1 429.4 176.0 433.0 C173.9 436.6 173.0 443.3 172.4 445.4" fill="none" stroke="#F6BE48" stroke-width="4" stroke-linecap="round" stroke-linejoin="round"/>
<path d="M212.0 417.0 C212.4 419.7 214.2 428.5 214.5 433.0 C214.8 437.5 214.8 440.8 213.9 444.0 C213.0 447.2 210.7 449.1 209.0 452.3 C207.3 455.5 204.4 461.5 203.5 463.3" fill="none" stroke="#F6BE48" stroke-width="4" stroke-linecap="round" stroke-linejoin="round"/>
<path d="M213.9 444.0 C214.5 445.4 217.1 448.4 217.3 452.3 C217.5 456.2 215.5 465.0 215.2 467.5" fill="none" stroke="#F6BE48" stroke-width="4" stroke-linecap="round" stroke-linejoin="round"/>
<path d="M209.0 449.5 C207.8 449.2 203.2 448.2 202.0 448.0" fill="none" stroke="#F6BE48" stroke-width="4" stroke-linecap="round" stroke-linejoin="round"/><path d="M84.7 133.0 C83.4 131.8 79.5 128.3 77.0 126.0 C74.5 123.7 71.8 121.9 69.8 118.9 C67.8 115.9 66.2 111.3 64.8 108.1 C63.4 104.9 62.8 102.7 61.5 99.9 C60.2 97.2 58.3 94.1 57.3 91.6 C56.3 89.1 56.0 86.0 55.7 84.9" fill="none" stroke="#2A87B1" stroke-width="1.5" stroke-linecap="round" stroke-linejoin="round"/>
<path d="M57.3 91.6 C57.6 90.3 59.0 85.3 59.4 84.1" fill="none" stroke="#2A87B1" stroke-width="1.5" stroke-linecap="round" stroke-linejoin="round"/>
<path d="M64.8 108.1 C65.1 106.7 66.2 102.9 66.5 99.9 C66.8 96.9 66.5 91.6 66.5 89.9" fill="none" stroke="#2A87B1" stroke-width="1.5" stroke-linecap="round" stroke-linejoin="round"/>
<path d="M69.8 118.9 C70.3 117.4 72.5 113.0 73.1 109.8 C73.6 106.6 72.5 101.8 73.1 99.9 C73.6 98.0 75.8 99.5 76.4 98.2 C77.0 97.0 76.7 93.4 76.8 92.4" fill="none" stroke="#2A87B1" stroke-width="1.5" stroke-linecap="round" stroke-linejoin="round"/>
<path d="M66.0 114.0 C64.2 113.3 57.7 112.3 54.9 109.8 C52.1 107.3 50.1 100.8 49.1 99.0" fill="none" stroke="#2A87B1" stroke-width="1.5" stroke-linecap="round" stroke-linejoin="round"/>
<path d="M64.0 114.5 C61.8 115.0 52.9 116.8 50.7 117.3" fill="none" stroke="#2A87B1" stroke-width="1.5" stroke-linecap="round" stroke-linejoin="round"/>
<path d="M65.0 117.0 C65.4 118.3 66.9 123.4 67.3 124.7" fill="none" stroke="#2A87B1" stroke-width="1.5" stroke-linecap="round" stroke-linejoin="round"/>
<path d="M54.9 109.8 C55.0 108.2 55.6 101.6 55.7 99.9" fill="none" stroke="#2A87B1" stroke-width="1.5" stroke-linecap="round" stroke-linejoin="round"/>
<path d="M137.3 119.7 C136.3 117.9 133.3 111.7 131.5 108.9 C129.7 106.1 128.2 104.5 126.5 103.1 C124.8 101.7 122.6 102.3 121.5 100.7 C120.4 99.1 120.7 95.4 119.9 93.2 C119.1 91.0 117.8 89.2 116.5 87.4 C115.2 85.6 113.4 84.0 112.4 82.4 C111.4 80.8 110.7 78.7 110.3 77.9" fill="none" stroke="#2A87B1" stroke-width="1.5" stroke-linecap="round" stroke-linejoin="round"/>
<path d="M112.4 82.4 C111.6 81.9 108.2 80.0 107.4 79.5" fill="none" stroke="#2A87B1" stroke-width="1.5" stroke-linecap="round" stroke-linejoin="round"/>
<path d="M121.5 100.7 C120.8 100.5 118.8 100.8 117.4 99.8 C116.0 98.8 114.7 96.8 113.2 94.9 C111.7 93.0 109.8 89.9 108.3 88.2 C106.8 86.5 104.8 85.1 104.1 84.5" fill="none" stroke="#2A87B1" stroke-width="1.5" stroke-linecap="round" stroke-linejoin="round"/>
<path d="M126.5 103.1 C126.8 102.0 128.0 98.6 128.1 96.5 C128.2 94.4 128.3 92.6 127.3 90.7 C126.3 88.8 123.8 86.6 122.3 84.9 C120.8 83.2 118.9 81.5 118.2 80.8" fill="none" stroke="#2A87B1" stroke-width="1.5" stroke-linecap="round" stroke-linejoin="round"/>
<path d="M127.8 92.0 C128.1 91.1 129.6 88.3 129.8 86.6 C130.0 84.9 129.1 82.4 129.0 81.6" fill="none" stroke="#2A87B1" stroke-width="1.5" stroke-linecap="round" stroke-linejoin="round"/>
<path d="M137.3 119.7 C137.9 119.2 140.1 118.1 140.6 116.4 C141.1 114.8 140.9 112.4 140.6 109.8 C140.2 107.2 138.8 102.2 138.5 100.7" fill="none" stroke="#2A87B1" stroke-width="1.5" stroke-linecap="round" stroke-linejoin="round"/>
<path d="M138.0 121.0 C138.8 121.3 141.5 123.1 143.0 123.0 C144.5 122.9 145.8 120.3 147.2 120.5 C148.6 120.7 149.4 123.3 151.3 123.9 C153.2 124.5 157.6 124.2 158.8 124.3" fill="none" stroke="#2A87B1" stroke-width="1.5" stroke-linecap="round" stroke-linejoin="round"/>
<path d="M181.0 162.0 C182.1 161.2 186.5 159.5 187.4 157.3 C188.3 155.1 186.0 151.7 186.2 148.6 C186.4 145.5 188.2 140.3 188.6 138.7" fill="none" stroke="#2A87B1" stroke-width="1.5" stroke-linecap="round" stroke-linejoin="round"/>
<path d="M186.5 151.0 C185.6 150.2 182.1 147.0 181.2 146.2" fill="none" stroke="#2A87B1" stroke-width="1.5" stroke-linecap="round" stroke-linejoin="round"/>
<path d="M187.0 152.0 C187.8 151.2 191.0 148.2 191.8 147.4" fill="none" stroke="#2A87B1" stroke-width="1.5" stroke-linecap="round" stroke-linejoin="round"/>
<path d="M187.4 157.3 C189.3 157.3 196.7 157.3 198.6 157.3" fill="none" stroke="#2A87B1" stroke-width="1.5" stroke-linecap="round" stroke-linejoin="round"/>
<path d="M187.4 158.0 C189.1 158.7 194.8 161.2 197.3 162.3 C199.8 163.4 200.0 165.0 202.3 164.8 C204.6 164.6 209.6 161.7 211.0 161.1" fill="none" stroke="#2A87B1" stroke-width="1.5" stroke-linecap="round" stroke-linejoin="round"/>
<path d="M202.3 164.8 C204.2 165.2 211.6 166.9 213.5 167.3" fill="none" stroke="#2A87B1" stroke-width="1.5" stroke-linecap="round" stroke-linejoin="round"/>
<path d="M199.0 164.0 C200.4 165.2 204.5 168.8 207.3 171.0 C210.1 173.2 214.6 176.2 216.0 177.2" fill="none" stroke="#2A87B1" stroke-width="1.5" stroke-linecap="round" stroke-linejoin="round"/>
<path d="M206.0 168.0 C207.2 168.7 212.2 171.6 213.5 172.3" fill="none" stroke="#2A87B1" stroke-width="1.5" stroke-linecap="round" stroke-linejoin="round"/>
<path d="M210.0 196.5 C211.2 196.2 214.8 195.1 217.2 194.6 C219.6 194.1 222.2 194.0 224.7 193.4 C227.2 192.8 230.5 192.4 232.2 190.9 C233.8 189.4 234.6 186.2 234.6 184.7 C234.6 183.2 232.4 182.4 232.0 182.0" fill="none" stroke="#2A87B1" stroke-width="1.5" stroke-linecap="round" stroke-linejoin="round"/>
<path d="M230.0 191.5 C229.9 190.2 229.8 184.8 229.7 183.5" fill="none" stroke="#2A87B1" stroke-width="1.5" stroke-linecap="round" stroke-linejoin="round"/>
<path d="M232.2 190.9 C234.3 191.3 240.9 192.8 244.6 193.4 C248.3 194.0 252.8 194.4 254.5 194.6" fill="none" stroke="#2A87B1" stroke-width="1.5" stroke-linecap="round" stroke-linejoin="round"/>
<path d="M224.0 195.0 C225.8 195.3 231.2 196.1 234.6 197.1 C238.0 198.1 241.3 199.7 244.6 200.9 C247.9 202.2 252.8 204.0 254.5 204.6" fill="none" stroke="#2A87B1" stroke-width="1.5" stroke-linecap="round" stroke-linejoin="round"/>
<path d="M219.0 196.0 C220.2 197.4 223.3 202.1 225.9 204.6 C228.5 207.1 232.3 209.2 234.6 210.8 C236.9 212.5 238.8 213.9 239.6 214.5" fill="none" stroke="#2A87B1" stroke-width="1.5" stroke-linecap="round" stroke-linejoin="round"/>
<path d="M225.9 204.6 C226.1 205.8 226.2 209.9 227.2 212.0 C228.2 214.1 231.2 216.2 232.0 217.0" fill="none" stroke="#2A87B1" stroke-width="1.5" stroke-linecap="round" stroke-linejoin="round"/>
<path d="M234.6 199.0 C235.4 200.3 237.5 205.3 239.6 207.1 C241.7 208.9 245.8 209.2 247.0 209.6" fill="none" stroke="#2A87B1" stroke-width="1.5" stroke-linecap="round" stroke-linejoin="round"/>
<path d="M133.4 269.7 C132.8 271.0 130.9 275.0 130.0 277.4 C129.1 279.8 129.0 281.8 128.0 284.2 C127.0 286.6 125.2 289.2 124.2 291.9 C123.2 294.6 122.4 297.9 122.2 300.6 C122.0 303.4 122.9 305.2 123.2 308.4 C123.5 311.6 124.0 318.1 124.2 320.0" fill="none" stroke="#2A87B1" stroke-width="1.5" stroke-linecap="round" stroke-linejoin="round"/>
<path d="M124.2 291.9 C123.2 292.1 121.0 293.2 118.4 292.9 C115.8 292.6 110.3 290.5 108.7 290.0" fill="none" stroke="#2A87B1" stroke-width="1.5" stroke-linecap="round" stroke-linejoin="round"/>
<path d="M118.4 292.9 C117.6 293.5 114.2 294.6 113.5 296.8 C112.8 299.1 114.2 303.5 114.5 306.4 C114.8 309.3 115.5 311.4 115.5 314.2 C115.5 316.9 114.7 321.4 114.5 322.9" fill="none" stroke="#2A87B1" stroke-width="1.5" stroke-linecap="round" stroke-linejoin="round"/>
<path d="M113.5 296.8 C112.5 296.8 108.7 296.8 107.7 296.8" fill="none" stroke="#2A87B1" stroke-width="1.5" stroke-linecap="round" stroke-linejoin="round"/>
<path d="M130.5 279.0 C130.6 280.7 130.6 285.4 131.0 289.0 C131.4 292.6 132.9 297.1 132.9 300.6 C132.9 304.2 131.0 306.8 131.0 310.3 C131.0 313.9 132.6 320.0 132.9 321.9" fill="none" stroke="#2A87B1" stroke-width="1.5" stroke-linecap="round" stroke-linejoin="round"/>
<path d="M132.9 300.6 C133.6 301.4 134.9 303.9 136.8 305.5 C138.7 307.1 142.7 308.5 144.5 310.3 C146.3 312.1 147.2 314.3 147.4 316.1 C147.6 317.9 145.8 320.2 145.5 321.0" fill="none" stroke="#2A87B1" stroke-width="1.5" stroke-linecap="round" stroke-linejoin="round"/>
<path d="M132.0 278.0 C133.1 279.4 136.8 283.9 138.7 286.1 C140.6 288.3 142.4 288.9 143.5 291.0 C144.6 293.1 144.7 296.3 145.5 298.7 C146.3 301.1 147.1 303.6 148.4 305.5 C149.7 307.4 152.4 309.5 153.2 310.3" fill="none" stroke="#2A87B1" stroke-width="1.5" stroke-linecap="round" stroke-linejoin="round"/>
<path d="M143.5 291.0 C144.6 292.3 148.2 297.1 150.3 298.7 C152.4 300.3 154.5 299.6 156.1 300.6 C157.7 301.6 159.3 303.9 160.0 304.5" fill="none" stroke="#2A87B1" stroke-width="1.5" stroke-linecap="round" stroke-linejoin="round"/>
<path d="M128.0 278.0 C126.9 278.2 122.4 279.1 121.3 279.3" fill="none" stroke="#2A87B1" stroke-width="1.5" stroke-linecap="round" stroke-linejoin="round"/>
<path d="M74.2 214.2 C72.6 214.3 67.9 215.3 64.5 215.1 C61.1 214.9 57.2 213.7 53.8 213.2 C50.4 212.7 47.7 210.9 44.2 212.2 C40.7 213.5 34.5 219.5 32.6 221.0" fill="none" stroke="#2A87B1" stroke-width="1.5" stroke-linecap="round" stroke-linejoin="round"/>
<path d="M45.0 212.0 C44.2 211.2 41.1 208.2 40.3 207.4" fill="none" stroke="#2A87B1" stroke-width="1.5" stroke-linecap="round" stroke-linejoin="round"/>
<path d="M49.0 212.7 C48.8 211.5 48.2 206.7 48.0 205.5" fill="none" stroke="#2A87B1" stroke-width="1.5" stroke-linecap="round" stroke-linejoin="round"/>
<path d="M58.0 215.0 C58.9 214.1 62.6 210.2 63.5 209.3" fill="none" stroke="#2A87B1" stroke-width="1.5" stroke-linecap="round" stroke-linejoin="round"/>
<path d="M64.0 216.0 C62.0 216.5 56.0 217.5 51.9 219.0 C47.8 220.5 41.4 223.8 39.3 224.8" fill="none" stroke="#2A87B1" stroke-width="1.5" stroke-linecap="round" stroke-linejoin="round"/>
<path d="M63.0 217.0 C61.0 218.3 54.5 223.0 50.9 224.8 C47.3 226.6 42.9 227.2 41.3 227.7" fill="none" stroke="#2A87B1" stroke-width="1.5" stroke-linecap="round" stroke-linejoin="round"/>
<path d="M50.9 224.8 C50.4 225.8 48.3 228.8 48.0 230.6 C47.7 232.4 49.8 233.6 49.0 235.5 C48.2 237.4 44.2 241.1 43.2 242.2" fill="none" stroke="#2A87B1" stroke-width="1.5" stroke-linecap="round" stroke-linejoin="round"/>
<path d="M47.0 229.0 C45.7 230.9 40.6 238.4 39.3 240.3" fill="none" stroke="#2A87B1" stroke-width="1.5" stroke-linecap="round" stroke-linejoin="round"/>
<path d="M65.5 216.0 C65.7 217.8 67.2 224.2 66.4 226.8 C65.6 229.4 62.4 229.3 60.6 231.6 C58.8 233.8 56.6 238.9 55.8 240.3" fill="none" stroke="#2A87B1" stroke-width="1.5" stroke-linecap="round" stroke-linejoin="round"/>
<path d="M60.6 231.6 C60.8 232.7 61.6 236.0 61.6 238.4 C61.6 240.8 60.8 244.8 60.6 246.1" fill="none" stroke="#2A87B1" stroke-width="1.5" stroke-linecap="round" stroke-linejoin="round"/>
<path d="M71.4 122.0 C72.5 122.0 84.3 135.4 89.6 139.7 C94.8 144.0 97.9 146.1 102.9 148.0 C107.9 149.9 114.8 152.1 119.5 151.3 C124.2 150.5 128.3 147.7 131.1 143.0 C133.9 138.3 134.7 122.5 136.1 123.0 C137.5 123.5 137.2 140.2 139.4 146.3 C141.6 152.4 145.0 156.3 149.4 159.6 C153.8 162.9 160.9 166.1 166.0 166.2 C171.1 166.3 179.2 158.9 180.0 160.0 C180.8 161.1 172.2 168.5 171.0 172.9 C169.8 177.3 170.1 182.6 172.6 186.2 C175.1 189.8 179.3 192.8 186.0 194.5 C192.7 196.2 211.3 195.7 213.0 196.5 C214.7 197.3 200.7 196.7 195.9 199.4 C191.1 202.1 186.2 207.7 184.3 212.7 C182.4 217.7 182.0 224.2 184.3 229.3 C186.6 234.4 199.9 240.2 198.0 243.0 C196.1 245.8 180.7 244.4 172.6 246.0 C164.5 247.6 155.5 249.3 149.4 252.6 C143.3 255.9 138.9 262.4 136.1 265.8 C133.3 269.2 134.5 276.3 132.8 273.0 C131.2 269.7 130.1 253.8 126.2 246.0 C122.3 238.2 116.2 231.0 109.6 226.0 C102.9 221.0 93.2 217.9 86.3 216.0 C79.4 214.1 68.0 216.1 68.0 214.4 C68.0 212.7 81.9 209.6 86.3 206.0 C90.7 202.4 92.9 198.3 94.6 192.8 C96.3 187.3 96.6 179.0 96.3 172.9 C96.0 166.8 95.2 161.8 93.0 156.3 C90.8 150.8 86.6 145.4 83.0 139.7 C79.4 134.0 70.3 122.0 71.4 122.0Z" fill="url(#nb)"/>
<path d="M190 238 L203 244 L199 252 L188 248Z" fill="#1E7BA5"/>
<ellipse cx="142" cy="209" rx="16.6" ry="13.4" transform="rotate(12 142 209)" fill="url(#nuc)"/>
<rect x="190.1" y="255.0" width="69.0" height="24.0" rx="12.0" fill="url(#my)" transform="rotate(33.0 224.6 267.0)"/>
<rect x="236.4" y="298.0" width="56.0" height="26.0" rx="13.0" fill="url(#my)" transform="rotate(54.0 264.4 311.0)"/>
<rect x="252.7" y="345.0" width="46.0" height="21.0" rx="10.5" fill="url(#my)" transform="rotate(93.0 275.7 355.5)"/>
<rect x="236.8" y="383.2" width="43.0" height="18.5" rx="9.2" fill="url(#my)" transform="rotate(132.0 258.3 392.5)"/>
<rect x="211.5" y="404.8" width="33.0" height="15.5" rx="7.8" fill="url(#my)" transform="rotate(162.0 228.0 412.5)"/></g>
<path d="M165 206 L260.6 158" stroke="#222" stroke-width="1.3"/>
<path d="M846 256.8 L914.5 213.3" stroke="#222" stroke-width="1.3"/>
<text x="597.00" y="25.80" textLength="424.00" lengthAdjust="spacingAndGlyphs" style="font-family:'Liberation Sans',sans-serif;font-size:29.0px;font-weight:bold" fill="#111">Amyotrophic Lateral Sclerosis</text>
<text x="637.50" y="53.70" textLength="344.50" lengthAdjust="spacingAndGlyphs" style="font-family:'Liberation Sans',sans-serif;font-size:20.0px;font-weight:bold" fill="#111">(deterioration of motor neurons)</text>
<text x="243.00" y="124.50" textLength="60.50" lengthAdjust="spacingAndGlyphs" style="font-family:'Liberation Sans',sans-serif;font-size:18.6px;font-weight:normal" fill="#1E1E1E">Normal</text>
<text x="230.50" y="148.00" textLength="85.50" lengthAdjust="spacingAndGlyphs" style="font-family:'Liberation Sans',sans-serif;font-size:18.6px;font-weight:normal" fill="#1E1E1E">Nerve Cell</text>
<text x="893.50" y="183.60" textLength="66.00" lengthAdjust="spacingAndGlyphs" style="font-family:'Liberation Sans',sans-serif;font-size:18.6px;font-weight:normal" fill="#1E1E1E">Affected</text>
<text x="883.50" y="206.70" textLength="84.50" lengthAdjust="spacingAndGlyphs" style="font-family:'Liberation Sans',sans-serif;font-size:18.6px;font-weight:normal" fill="#1E1E1E">Nerve Cell</text>
<text x="133.50" y="625.50" textLength="74.00" lengthAdjust="spacingAndGlyphs" style="font-family:'Liberation Sans',sans-serif;font-size:18.6px;font-weight:normal" fill="#1E1E1E">Voluntary</text>
<text x="102.00" y="648.90" textLength="135.00" lengthAdjust="spacingAndGlyphs" style="font-family:'Liberation Sans',sans-serif;font-size:18.6px;font-weight:normal" fill="#1E1E1E">Muscle Contracts</text>
<text x="838.00" y="625.70" textLength="72.50" lengthAdjust="spacingAndGlyphs" style="font-family:'Liberation Sans',sans-serif;font-size:18.6px;font-weight:normal" fill="#1E1E1E">Voluntary</text>
<text x="815.50" y="649.20" textLength="115.50" lengthAdjust="spacingAndGlyphs" style="font-family:'Liberation Sans',sans-serif;font-size:18.6px;font-weight:normal" fill="#1E1E1E">Muscle unable</text>
<text x="833.50" y="672.20" textLength="81.50" lengthAdjust="spacingAndGlyphs" style="font-family:'Liberation Sans',sans-serif;font-size:18.6px;font-weight:normal" fill="#1E1E1E">to contract</text>
</svg></body></html>
